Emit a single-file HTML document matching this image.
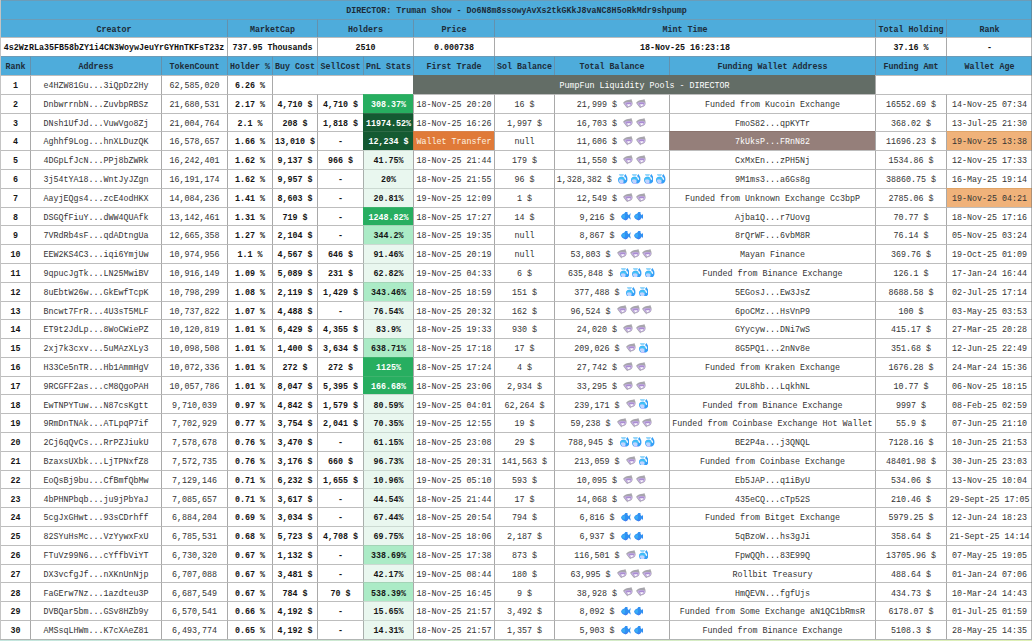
<!DOCTYPE html>
<html><head><meta charset="utf-8"><title>DIRECTOR holders</title>
<style>
html,body{margin:0;padding:0;}
body{width:1032px;height:641px;overflow:hidden;background:#fff;font-family:"Liberation Mono",monospace;font-size:8.35px;color:#333;}
#t{position:absolute;left:0;top:0;width:1032px;height:641px;overflow:hidden;background:#fff;}
.r{position:absolute;left:0;width:1032px;}
.c{position:absolute;top:0;height:100%;box-sizing:border-box;border-left:1px solid #a9a9a9;border-top:1px solid #bdbdbd;text-align:center;line-height:23.6px;white-space:pre;overflow:hidden;}
.up .c{line-height:21.6px;}
.dn .c{line-height:25.6px;}
.h .c{background:#4eacdb;color:#1d2b38;font-weight:bold;border-left-color:#6491ad;border-top-color:#6c9cb8;}
.v .c{font-weight:bold;color:#111;}
.b{font-weight:bold;color:#151515;}
.lp{background:#636d66;color:#fff;border-color:#636d66;}
.g0{background:#e9f7ef;border-top-color:#cbd9d1;border-left-color:#a9afac;}
.g1{background:#abebc6;border-top-color:#a3d3b6;border-left-color:#9fb3a8;}
.g2{background:#27ae60;color:#fff;border-left-color:#27ae60;border-top-color:#3db36d;}
.g3{background:#145a32;color:#fff;border-left-color:#145a32;border-top-color:#2f6b47;}
.wt{background:#e07a38;color:#fdf2e3;border-left-color:#c9763f;border-top-color:#d9824a;}
.br{background:#957f7a;color:#fff;border-left-color:#8f8580;border-top-color:#8b746e;}
.or{background:#f0b27a;border-top-color:#dfa468;}
i{display:inline-block;width:12.6px;height:0;vertical-align:baseline;position:relative;}
.e{position:absolute;left:1.5px;top:var(--t);width:9.8px;height:9.6px;}
#lb{position:absolute;left:0;top:0;width:1px;height:640px;background:#c4c4c4;}
#rb{position:absolute;left:1031px;top:0;width:1px;height:640px;background:rgba(110,110,110,0.5);}
#bb{position:absolute;left:0;top:639px;width:1032px;height:1px;background:#b2b6b4;}
#ft{position:absolute;left:0;top:640px;width:1032px;height:1px;background:linear-gradient(to right,#c4e6df,#d2ebcc 50%,#dff0b6);}
</style></head>
<body><div id="t">
<div class="r h up" style="top:0px;height:19px">
<div class="c" style="left:0px;width:1032px">DIRECTOR: Truman Show - Do6N8m8ssowyAvXs2tkGKkJ8vaNC8H5oRkMdr9shpump</div>
</div>
<div class="r h up" style="top:19px;height:18px">
<div class="c" style="left:0px;width:227px">Creator</div>
<div class="c" style="left:227px;width:90px">MarketCap</div>
<div class="c" style="left:317px;width:96px">Holders</div>
<div class="c" style="left:413px;width:81px">Price</div>
<div class="c" style="left:494px;width:381px">Mint Time</div>
<div class="c" style="left:875px;width:71px">Total Holding</div>
<div class="c" style="left:946px;width:86px">Rank</div>
</div>
<div class="r v up" style="top:37px;height:19px">
<div class="c" style="left:0px;width:227px">4s2WzRLa35FB58bZY1i4CN3WoywJeuYrGYHnTKFsT23z</div>
<div class="c" style="left:227px;width:90px">737.95 Thousands</div>
<div class="c" style="left:317px;width:96px">2510</div>
<div class="c" style="left:413px;width:81px">0.000738</div>
<div class="c" style="left:494px;width:381px">18-Nov-25 16:23:18</div>
<div class="c" style="left:875px;width:71px">37.16 %</div>
<div class="c" style="left:946px;width:86px">-</div>
</div>
<div class="r h up" style="top:56px;height:19px">
<div class="c" style="left:0px;width:30px">Rank</div>
<div class="c" style="left:30px;width:131px">Address</div>
<div class="c" style="left:161px;width:66px">TokenCount</div>
<div class="c" style="left:227px;width:45px">Holder %</div>
<div class="c" style="left:272px;width:45px">Buy Cost</div>
<div class="c" style="left:317px;width:46px">SellCost</div>
<div class="c" style="left:363px;width:50px">PnL Stats</div>
<div class="c" style="left:413px;width:81px">First Trade</div>
<div class="c" style="left:494px;width:60px">Sol Balance</div>
<div class="c" style="left:554px;width:115px">Total Balance</div>
<div class="c" style="left:669px;width:206px">Funding Wallet Address</div>
<div class="c" style="left:875px;width:71px">Funding Amt</div>
<div class="c" style="left:946px;width:86px">Wallet Age</div>
</div>
<div class="r d up" style="top:75px;height:19px;--t:-8.07px">
<div class="c b" style="left:0px;width:30px">1</div>
<div class="c" style="left:30px;width:131px">e4HZW81Gu...3iQpDz2Hy</div>
<div class="c" style="left:161px;width:66px">62,585,020</div>
<div class="c b" style="left:227px;width:45px">6.26 %</div>
<div class="c" style="left:272px;width:141px"></div>
<div class="c lp" style="left:413px;width:462px">PumpFun Liquidity Pools - DIRECTOR</div>
<div class="c" style="left:875px;width:157px"></div>
</div>
<div class="r d up" style="top:94px;height:19px;--t:-8.28px">
<div class="c b" style="left:0px;width:30px">2</div>
<div class="c" style="left:30px;width:131px">DnbwrrnbN...ZuvbpRBSz</div>
<div class="c" style="left:161px;width:66px">21,680,531</div>
<div class="c b" style="left:227px;width:45px">2.17 %</div>
<div class="c b" style="left:272px;width:45px">4,710 $</div>
<div class="c b" style="left:317px;width:46px">4,710 $</div>
<div class="c b g2" style="left:363px;width:50px">308.37%</div>
<div class="c" style="left:413px;width:81px">18-Nov-25 20:20</div>
<div class="c" style="left:494px;width:60px">16 $</div>
<div class="c" style="left:554px;width:115px">21,999 $ <i><svg class="e" viewBox="0 0 10 10"><path d="M0 4C1.4 1.9 4.6 0.6 7.3 0.7L8.6 0 8.9 1.1C10 2.7 10.2 5.2 9.2 6.8 8.2 8.2 6.2 8.8 4.9 8.9L4.2 10 3.6 8.5C2.2 7.4 0.9 5.6 0 4Z" fill="#a7a5ac"/><path d="M1 4.3C3.2 3.1 6.9 2.8 9.5 3.8 9.6 5.2 9.2 6.2 8.6 6.9 7.4 7.9 5.8 8.2 4.6 8.1 3.2 7.2 1.9 5.8 1 4.3Z" fill="#c2addf"/><path d="M3.2 4.4C4.7 3.9 6.6 3.9 8.3 4.4L8.2 5.5 3.2 5.7Z" fill="#a98bd2"/><path d="M3.9 5.8L7.6 5.6C7.1 7 6.2 7.5 5.4 7.4Z" fill="#fff"/></svg></i><i><svg class="e" viewBox="0 0 10 10"><path d="M0 4C1.4 1.9 4.6 0.6 7.3 0.7L8.6 0 8.9 1.1C10 2.7 10.2 5.2 9.2 6.8 8.2 8.2 6.2 8.8 4.9 8.9L4.2 10 3.6 8.5C2.2 7.4 0.9 5.6 0 4Z" fill="#a7a5ac"/><path d="M1 4.3C3.2 3.1 6.9 2.8 9.5 3.8 9.6 5.2 9.2 6.2 8.6 6.9 7.4 7.9 5.8 8.2 4.6 8.1 3.2 7.2 1.9 5.8 1 4.3Z" fill="#c2addf"/><path d="M3.2 4.4C4.7 3.9 6.6 3.9 8.3 4.4L8.2 5.5 3.2 5.7Z" fill="#a98bd2"/><path d="M3.9 5.8L7.6 5.6C7.1 7 6.2 7.5 5.4 7.4Z" fill="#fff"/></svg></i></div>
<div class="c" style="left:669px;width:206px">Funded from Kucoin Exchange</div>
<div class="c" style="left:875px;width:71px">16552.69 $</div>
<div class="c" style="left:946px;width:86px">14-Nov-25 07:34</div>
</div>
<div class="r d up" style="top:113px;height:18px;--t:-8.49px">
<div class="c b" style="left:0px;width:30px">3</div>
<div class="c" style="left:30px;width:131px">DNsh1UfJd...VuwVgo8Zj</div>
<div class="c" style="left:161px;width:66px">21,004,764</div>
<div class="c b" style="left:227px;width:45px">2.1 %</div>
<div class="c b" style="left:272px;width:45px">208 $</div>
<div class="c b" style="left:317px;width:46px">1,818 $</div>
<div class="c b g3" style="left:363px;width:50px">11974.52%</div>
<div class="c" style="left:413px;width:81px">18-Nov-25 16:26</div>
<div class="c" style="left:494px;width:60px">1,997 $</div>
<div class="c" style="left:554px;width:115px">16,703 $ <i><svg class="e" viewBox="0 0 10 10"><path d="M0 4C1.4 1.9 4.6 0.6 7.3 0.7L8.6 0 8.9 1.1C10 2.7 10.2 5.2 9.2 6.8 8.2 8.2 6.2 8.8 4.9 8.9L4.2 10 3.6 8.5C2.2 7.4 0.9 5.6 0 4Z" fill="#a7a5ac"/><path d="M1 4.3C3.2 3.1 6.9 2.8 9.5 3.8 9.6 5.2 9.2 6.2 8.6 6.9 7.4 7.9 5.8 8.2 4.6 8.1 3.2 7.2 1.9 5.8 1 4.3Z" fill="#c2addf"/><path d="M3.2 4.4C4.7 3.9 6.6 3.9 8.3 4.4L8.2 5.5 3.2 5.7Z" fill="#a98bd2"/><path d="M3.9 5.8L7.6 5.6C7.1 7 6.2 7.5 5.4 7.4Z" fill="#fff"/></svg></i><i><svg class="e" viewBox="0 0 10 10"><path d="M0 4C1.4 1.9 4.6 0.6 7.3 0.7L8.6 0 8.9 1.1C10 2.7 10.2 5.2 9.2 6.8 8.2 8.2 6.2 8.8 4.9 8.9L4.2 10 3.6 8.5C2.2 7.4 0.9 5.6 0 4Z" fill="#a7a5ac"/><path d="M1 4.3C3.2 3.1 6.9 2.8 9.5 3.8 9.6 5.2 9.2 6.2 8.6 6.9 7.4 7.9 5.8 8.2 4.6 8.1 3.2 7.2 1.9 5.8 1 4.3Z" fill="#c2addf"/><path d="M3.2 4.4C4.7 3.9 6.6 3.9 8.3 4.4L8.2 5.5 3.2 5.7Z" fill="#a98bd2"/><path d="M3.9 5.8L7.6 5.6C7.1 7 6.2 7.5 5.4 7.4Z" fill="#fff"/></svg></i></div>
<div class="c" style="left:669px;width:206px">FmoS82...qpKYTr</div>
<div class="c" style="left:875px;width:71px">368.02 $</div>
<div class="c" style="left:946px;width:86px">13-Jul-25 21:30</div>
</div>
<div class="r d up" style="top:131px;height:19px;--t:-7.69px">
<div class="c b" style="left:0px;width:30px">4</div>
<div class="c" style="left:30px;width:131px">Aghhf9Log...hnXLDuzQK</div>
<div class="c" style="left:161px;width:66px">16,578,657</div>
<div class="c b" style="left:227px;width:45px">1.66 %</div>
<div class="c b" style="left:272px;width:45px">13,010 $</div>
<div class="c b" style="left:317px;width:46px">-</div>
<div class="c b g3" style="left:363px;width:50px">12,234 $</div>
<div class="c wt" style="left:413px;width:81px">Wallet Transfer</div>
<div class="c" style="left:494px;width:60px">null</div>
<div class="c" style="left:554px;width:115px">11,606 $ <i><svg class="e" viewBox="0 0 10 10"><path d="M0 4C1.4 1.9 4.6 0.6 7.3 0.7L8.6 0 8.9 1.1C10 2.7 10.2 5.2 9.2 6.8 8.2 8.2 6.2 8.8 4.9 8.9L4.2 10 3.6 8.5C2.2 7.4 0.9 5.6 0 4Z" fill="#a7a5ac"/><path d="M1 4.3C3.2 3.1 6.9 2.8 9.5 3.8 9.6 5.2 9.2 6.2 8.6 6.9 7.4 7.9 5.8 8.2 4.6 8.1 3.2 7.2 1.9 5.8 1 4.3Z" fill="#c2addf"/><path d="M3.2 4.4C4.7 3.9 6.6 3.9 8.3 4.4L8.2 5.5 3.2 5.7Z" fill="#a98bd2"/><path d="M3.9 5.8L7.6 5.6C7.1 7 6.2 7.5 5.4 7.4Z" fill="#fff"/></svg></i><i><svg class="e" viewBox="0 0 10 10"><path d="M0 4C1.4 1.9 4.6 0.6 7.3 0.7L8.6 0 8.9 1.1C10 2.7 10.2 5.2 9.2 6.8 8.2 8.2 6.2 8.8 4.9 8.9L4.2 10 3.6 8.5C2.2 7.4 0.9 5.6 0 4Z" fill="#a7a5ac"/><path d="M1 4.3C3.2 3.1 6.9 2.8 9.5 3.8 9.6 5.2 9.2 6.2 8.6 6.9 7.4 7.9 5.8 8.2 4.6 8.1 3.2 7.2 1.9 5.8 1 4.3Z" fill="#c2addf"/><path d="M3.2 4.4C4.7 3.9 6.6 3.9 8.3 4.4L8.2 5.5 3.2 5.7Z" fill="#a98bd2"/><path d="M3.9 5.8L7.6 5.6C7.1 7 6.2 7.5 5.4 7.4Z" fill="#fff"/></svg></i></div>
<div class="c br" style="left:669px;width:206px">7kUksP...FRnN82</div>
<div class="c" style="left:875px;width:71px">11696.23 $</div>
<div class="c or" style="left:946px;width:86px">19-Nov-25 13:38</div>
</div>
<div class="r d up" style="top:150px;height:19px;--t:-7.9px">
<div class="c b" style="left:0px;width:30px">5</div>
<div class="c" style="left:30px;width:131px">4DGpLfJcN...PPj8bZWRk</div>
<div class="c" style="left:161px;width:66px">16,242,401</div>
<div class="c b" style="left:227px;width:45px">1.62 %</div>
<div class="c b" style="left:272px;width:45px">9,137 $</div>
<div class="c b" style="left:317px;width:46px">966 $</div>
<div class="c b g0" style="left:363px;width:50px">41.75%</div>
<div class="c" style="left:413px;width:81px">18-Nov-25 21:44</div>
<div class="c" style="left:494px;width:60px">179 $</div>
<div class="c" style="left:554px;width:115px">11,550 $ <i><svg class="e" viewBox="0 0 10 10"><path d="M0 4C1.4 1.9 4.6 0.6 7.3 0.7L8.6 0 8.9 1.1C10 2.7 10.2 5.2 9.2 6.8 8.2 8.2 6.2 8.8 4.9 8.9L4.2 10 3.6 8.5C2.2 7.4 0.9 5.6 0 4Z" fill="#a7a5ac"/><path d="M1 4.3C3.2 3.1 6.9 2.8 9.5 3.8 9.6 5.2 9.2 6.2 8.6 6.9 7.4 7.9 5.8 8.2 4.6 8.1 3.2 7.2 1.9 5.8 1 4.3Z" fill="#c2addf"/><path d="M3.2 4.4C4.7 3.9 6.6 3.9 8.3 4.4L8.2 5.5 3.2 5.7Z" fill="#a98bd2"/><path d="M3.9 5.8L7.6 5.6C7.1 7 6.2 7.5 5.4 7.4Z" fill="#fff"/></svg></i><i><svg class="e" viewBox="0 0 10 10"><path d="M0 4C1.4 1.9 4.6 0.6 7.3 0.7L8.6 0 8.9 1.1C10 2.7 10.2 5.2 9.2 6.8 8.2 8.2 6.2 8.8 4.9 8.9L4.2 10 3.6 8.5C2.2 7.4 0.9 5.6 0 4Z" fill="#a7a5ac"/><path d="M1 4.3C3.2 3.1 6.9 2.8 9.5 3.8 9.6 5.2 9.2 6.2 8.6 6.9 7.4 7.9 5.8 8.2 4.6 8.1 3.2 7.2 1.9 5.8 1 4.3Z" fill="#c2addf"/><path d="M3.2 4.4C4.7 3.9 6.6 3.9 8.3 4.4L8.2 5.5 3.2 5.7Z" fill="#a98bd2"/><path d="M3.9 5.8L7.6 5.6C7.1 7 6.2 7.5 5.4 7.4Z" fill="#fff"/></svg></i></div>
<div class="c" style="left:669px;width:206px">CxMxEn...zPH5Nj</div>
<div class="c" style="left:875px;width:71px">1534.86 $</div>
<div class="c" style="left:946px;width:86px">12-Nov-25 17:33</div>
</div>
<div class="r d up" style="top:169px;height:19px;--t:-8.1px">
<div class="c b" style="left:0px;width:30px">6</div>
<div class="c" style="left:30px;width:131px">3j54tYA18...WntJyJZgn</div>
<div class="c" style="left:161px;width:66px">16,191,174</div>
<div class="c b" style="left:227px;width:45px">1.62 %</div>
<div class="c b" style="left:272px;width:45px">9,957 $</div>
<div class="c b" style="left:317px;width:46px">-</div>
<div class="c b g0" style="left:363px;width:50px">20%</div>
<div class="c" style="left:413px;width:81px">18-Nov-25 21:55</div>
<div class="c" style="left:494px;width:60px">96 $</div>
<div class="c" style="left:554px;width:115px">1,328,382 $ <i><svg class="e" viewBox="0 0 10 10"><path d="M0.8 0H6.2L5.1 2.4H1.9Z" fill="#95d6fb"/><path d="M0 6C0 4 1.4 2.8 3.4 2.8 5 2.8 6.2 3.4 6.9 4.6L6.3 1.8 7.6 0 8.7 1.7C10.1 3.6 10.1 7 8.8 8.7 8.1 9.6 7.2 10 6 10H2.6C0.9 9.8 0 8 0 6Z" fill="#359ff7"/><path d="M0.5 4.6C2 2.9 5.4 3 6.6 4.8 6.8 5.6 6.6 6.4 6.2 7 4.6 5.6 2.2 5.4 0.4 6.2Z" fill="#41c2f7"/><path d="M0.9 6.1C2.4 5.1 4.6 5.3 5.7 6.7 5.9 8.1 5.4 9.3 4.8 9.9H2.6C1.4 9.4 0.9 7.7 0.9 6.1Z" fill="#c0d5ff"/><path d="M2 9.3H6.4L6.2 10H2.6Z" fill="#c9a4f8"/><path d="M6.3 2.5C7.9 2.9 8.6 4.8 8.2 6.5L6.7 5.2Z" fill="#fff"/></svg></i><i><svg class="e" viewBox="0 0 10 10"><path d="M0.8 0H6.2L5.1 2.4H1.9Z" fill="#95d6fb"/><path d="M0 6C0 4 1.4 2.8 3.4 2.8 5 2.8 6.2 3.4 6.9 4.6L6.3 1.8 7.6 0 8.7 1.7C10.1 3.6 10.1 7 8.8 8.7 8.1 9.6 7.2 10 6 10H2.6C0.9 9.8 0 8 0 6Z" fill="#359ff7"/><path d="M0.5 4.6C2 2.9 5.4 3 6.6 4.8 6.8 5.6 6.6 6.4 6.2 7 4.6 5.6 2.2 5.4 0.4 6.2Z" fill="#41c2f7"/><path d="M0.9 6.1C2.4 5.1 4.6 5.3 5.7 6.7 5.9 8.1 5.4 9.3 4.8 9.9H2.6C1.4 9.4 0.9 7.7 0.9 6.1Z" fill="#c0d5ff"/><path d="M2 9.3H6.4L6.2 10H2.6Z" fill="#c9a4f8"/><path d="M6.3 2.5C7.9 2.9 8.6 4.8 8.2 6.5L6.7 5.2Z" fill="#fff"/></svg></i><i><svg class="e" viewBox="0 0 10 10"><path d="M0.8 0H6.2L5.1 2.4H1.9Z" fill="#95d6fb"/><path d="M0 6C0 4 1.4 2.8 3.4 2.8 5 2.8 6.2 3.4 6.9 4.6L6.3 1.8 7.6 0 8.7 1.7C10.1 3.6 10.1 7 8.8 8.7 8.1 9.6 7.2 10 6 10H2.6C0.9 9.8 0 8 0 6Z" fill="#359ff7"/><path d="M0.5 4.6C2 2.9 5.4 3 6.6 4.8 6.8 5.6 6.6 6.4 6.2 7 4.6 5.6 2.2 5.4 0.4 6.2Z" fill="#41c2f7"/><path d="M0.9 6.1C2.4 5.1 4.6 5.3 5.7 6.7 5.9 8.1 5.4 9.3 4.8 9.9H2.6C1.4 9.4 0.9 7.7 0.9 6.1Z" fill="#c0d5ff"/><path d="M2 9.3H6.4L6.2 10H2.6Z" fill="#c9a4f8"/><path d="M6.3 2.5C7.9 2.9 8.6 4.8 8.2 6.5L6.7 5.2Z" fill="#fff"/></svg></i><i><svg class="e" viewBox="0 0 10 10"><path d="M0.8 0H6.2L5.1 2.4H1.9Z" fill="#95d6fb"/><path d="M0 6C0 4 1.4 2.8 3.4 2.8 5 2.8 6.2 3.4 6.9 4.6L6.3 1.8 7.6 0 8.7 1.7C10.1 3.6 10.1 7 8.8 8.7 8.1 9.6 7.2 10 6 10H2.6C0.9 9.8 0 8 0 6Z" fill="#359ff7"/><path d="M0.5 4.6C2 2.9 5.4 3 6.6 4.8 6.8 5.6 6.6 6.4 6.2 7 4.6 5.6 2.2 5.4 0.4 6.2Z" fill="#41c2f7"/><path d="M0.9 6.1C2.4 5.1 4.6 5.3 5.7 6.7 5.9 8.1 5.4 9.3 4.8 9.9H2.6C1.4 9.4 0.9 7.7 0.9 6.1Z" fill="#c0d5ff"/><path d="M2 9.3H6.4L6.2 10H2.6Z" fill="#c9a4f8"/><path d="M6.3 2.5C7.9 2.9 8.6 4.8 8.2 6.5L6.7 5.2Z" fill="#fff"/></svg></i></div>
<div class="c" style="left:669px;width:206px">9M1ms3...a6Gs8g</div>
<div class="c" style="left:875px;width:71px">38860.75 $</div>
<div class="c" style="left:946px;width:86px">16-May-25 19:14</div>
</div>
<div class="r d up" style="top:188px;height:19px;--t:-8.31px">
<div class="c b" style="left:0px;width:30px">7</div>
<div class="c" style="left:30px;width:131px">AayjEQgs4...zcE4odHKX</div>
<div class="c" style="left:161px;width:66px">14,084,236</div>
<div class="c b" style="left:227px;width:45px">1.41 %</div>
<div class="c b" style="left:272px;width:45px">8,603 $</div>
<div class="c b" style="left:317px;width:46px">-</div>
<div class="c b g0" style="left:363px;width:50px">20.81%</div>
<div class="c" style="left:413px;width:81px">19-Nov-25 12:09</div>
<div class="c" style="left:494px;width:60px">1 $</div>
<div class="c" style="left:554px;width:115px">12,549 $ <i><svg class="e" viewBox="0 0 10 10"><path d="M0 4C1.4 1.9 4.6 0.6 7.3 0.7L8.6 0 8.9 1.1C10 2.7 10.2 5.2 9.2 6.8 8.2 8.2 6.2 8.8 4.9 8.9L4.2 10 3.6 8.5C2.2 7.4 0.9 5.6 0 4Z" fill="#a7a5ac"/><path d="M1 4.3C3.2 3.1 6.9 2.8 9.5 3.8 9.6 5.2 9.2 6.2 8.6 6.9 7.4 7.9 5.8 8.2 4.6 8.1 3.2 7.2 1.9 5.8 1 4.3Z" fill="#c2addf"/><path d="M3.2 4.4C4.7 3.9 6.6 3.9 8.3 4.4L8.2 5.5 3.2 5.7Z" fill="#a98bd2"/><path d="M3.9 5.8L7.6 5.6C7.1 7 6.2 7.5 5.4 7.4Z" fill="#fff"/></svg></i><i><svg class="e" viewBox="0 0 10 10"><path d="M0 4C1.4 1.9 4.6 0.6 7.3 0.7L8.6 0 8.9 1.1C10 2.7 10.2 5.2 9.2 6.8 8.2 8.2 6.2 8.8 4.9 8.9L4.2 10 3.6 8.5C2.2 7.4 0.9 5.6 0 4Z" fill="#a7a5ac"/><path d="M1 4.3C3.2 3.1 6.9 2.8 9.5 3.8 9.6 5.2 9.2 6.2 8.6 6.9 7.4 7.9 5.8 8.2 4.6 8.1 3.2 7.2 1.9 5.8 1 4.3Z" fill="#c2addf"/><path d="M3.2 4.4C4.7 3.9 6.6 3.9 8.3 4.4L8.2 5.5 3.2 5.7Z" fill="#a98bd2"/><path d="M3.9 5.8L7.6 5.6C7.1 7 6.2 7.5 5.4 7.4Z" fill="#fff"/></svg></i></div>
<div class="c" style="left:669px;width:206px">Funded from Unknown Exchange Cc3bpP</div>
<div class="c" style="left:875px;width:71px">2785.06 $</div>
<div class="c or" style="left:946px;width:86px">19-Nov-25 04:21</div>
</div>
<div class="r d up" style="top:207px;height:18px;--t:-8.52px">
<div class="c b" style="left:0px;width:30px">8</div>
<div class="c" style="left:30px;width:131px">DSGQfFiuY...dWW4QUAfk</div>
<div class="c" style="left:161px;width:66px">13,142,461</div>
<div class="c b" style="left:227px;width:45px">1.31 %</div>
<div class="c b" style="left:272px;width:45px">719 $</div>
<div class="c b" style="left:317px;width:46px">-</div>
<div class="c b g2" style="left:363px;width:50px">1248.82%</div>
<div class="c" style="left:413px;width:81px">18-Nov-25 17:27</div>
<div class="c" style="left:494px;width:60px">14 $</div>
<div class="c" style="left:554px;width:115px">9,216 $ <i><svg class="e" viewBox="0 0 10 10"><path d="M3.4 2.6L4.4 1 6.6 1.1 6.8 3C7.4 3.4 7.8 3.9 8.1 4.5L9.6 2.4 10 2.8 9.3 5.4 10 8.4 9.5 8.8 8 6.8C7.3 8.2 6 9.5 4.6 9.6 2.3 9.6 0.4 7.8 0 5.8 0.4 4.2 1.8 3 3.4 2.6Z" fill="#2f8ff2"/><path d="M0.6 5.6C1 4.4 2.3 3.5 3.8 3.4 4.4 4.8 4.2 7 3.4 8.2 2 7.8 0.9 6.7 0.6 5.6Z" fill="#39acf6"/><path d="M3 8.9C4.6 9.1 6.4 8.2 7.5 6.7 7.1 8.2 5.9 9.5 4.6 9.6 4 9.6 3.4 9.3 3 8.9Z" fill="#4b76f0"/></svg></i><i><svg class="e" viewBox="0 0 10 10"><path d="M3.4 2.6L4.4 1 6.6 1.1 6.8 3C7.4 3.4 7.8 3.9 8.1 4.5L9.6 2.4 10 2.8 9.3 5.4 10 8.4 9.5 8.8 8 6.8C7.3 8.2 6 9.5 4.6 9.6 2.3 9.6 0.4 7.8 0 5.8 0.4 4.2 1.8 3 3.4 2.6Z" fill="#2f8ff2"/><path d="M0.6 5.6C1 4.4 2.3 3.5 3.8 3.4 4.4 4.8 4.2 7 3.4 8.2 2 7.8 0.9 6.7 0.6 5.6Z" fill="#39acf6"/><path d="M3 8.9C4.6 9.1 6.4 8.2 7.5 6.7 7.1 8.2 5.9 9.5 4.6 9.6 4 9.6 3.4 9.3 3 8.9Z" fill="#4b76f0"/></svg></i></div>
<div class="c" style="left:669px;width:206px">Ajba1Q...r7Uovg</div>
<div class="c" style="left:875px;width:71px">70.77 $</div>
<div class="c" style="left:946px;width:86px">18-Nov-25 17:16</div>
</div>
<div class="r d up" style="top:225px;height:19px;--t:-7.72px">
<div class="c b" style="left:0px;width:30px">9</div>
<div class="c" style="left:30px;width:131px">7VRdRb4sF...qdADtngUa</div>
<div class="c" style="left:161px;width:66px">12,665,358</div>
<div class="c b" style="left:227px;width:45px">1.27 %</div>
<div class="c b" style="left:272px;width:45px">2,104 $</div>
<div class="c b" style="left:317px;width:46px">-</div>
<div class="c b g1" style="left:363px;width:50px">344.2%</div>
<div class="c" style="left:413px;width:81px">18-Nov-25 19:35</div>
<div class="c" style="left:494px;width:60px">null</div>
<div class="c" style="left:554px;width:115px">8,867 $ <i><svg class="e" viewBox="0 0 10 10"><path d="M3.4 2.6L4.4 1 6.6 1.1 6.8 3C7.4 3.4 7.8 3.9 8.1 4.5L9.6 2.4 10 2.8 9.3 5.4 10 8.4 9.5 8.8 8 6.8C7.3 8.2 6 9.5 4.6 9.6 2.3 9.6 0.4 7.8 0 5.8 0.4 4.2 1.8 3 3.4 2.6Z" fill="#2f8ff2"/><path d="M0.6 5.6C1 4.4 2.3 3.5 3.8 3.4 4.4 4.8 4.2 7 3.4 8.2 2 7.8 0.9 6.7 0.6 5.6Z" fill="#39acf6"/><path d="M3 8.9C4.6 9.1 6.4 8.2 7.5 6.7 7.1 8.2 5.9 9.5 4.6 9.6 4 9.6 3.4 9.3 3 8.9Z" fill="#4b76f0"/></svg></i><i><svg class="e" viewBox="0 0 10 10"><path d="M3.4 2.6L4.4 1 6.6 1.1 6.8 3C7.4 3.4 7.8 3.9 8.1 4.5L9.6 2.4 10 2.8 9.3 5.4 10 8.4 9.5 8.8 8 6.8C7.3 8.2 6 9.5 4.6 9.6 2.3 9.6 0.4 7.8 0 5.8 0.4 4.2 1.8 3 3.4 2.6Z" fill="#2f8ff2"/><path d="M0.6 5.6C1 4.4 2.3 3.5 3.8 3.4 4.4 4.8 4.2 7 3.4 8.2 2 7.8 0.9 6.7 0.6 5.6Z" fill="#39acf6"/><path d="M3 8.9C4.6 9.1 6.4 8.2 7.5 6.7 7.1 8.2 5.9 9.5 4.6 9.6 4 9.6 3.4 9.3 3 8.9Z" fill="#4b76f0"/></svg></i></div>
<div class="c" style="left:669px;width:206px">8rQrWF...6vbM8R</div>
<div class="c" style="left:875px;width:71px">76.14 $</div>
<div class="c" style="left:946px;width:86px">05-Nov-25 03:24</div>
</div>
<div class="r d up" style="top:244px;height:19px;--t:-7.93px">
<div class="c b" style="left:0px;width:30px">10</div>
<div class="c" style="left:30px;width:131px">EEW2KS4C3...iqi6YmjUw</div>
<div class="c" style="left:161px;width:66px">10,974,956</div>
<div class="c b" style="left:227px;width:45px">1.1 %</div>
<div class="c b" style="left:272px;width:45px">4,567 $</div>
<div class="c b" style="left:317px;width:46px">646 $</div>
<div class="c b g0" style="left:363px;width:50px">91.46%</div>
<div class="c" style="left:413px;width:81px">18-Nov-25 20:19</div>
<div class="c" style="left:494px;width:60px">null</div>
<div class="c" style="left:554px;width:115px">53,803 $ <i><svg class="e" viewBox="0 0 10 10"><path d="M0 4C1.4 1.9 4.6 0.6 7.3 0.7L8.6 0 8.9 1.1C10 2.7 10.2 5.2 9.2 6.8 8.2 8.2 6.2 8.8 4.9 8.9L4.2 10 3.6 8.5C2.2 7.4 0.9 5.6 0 4Z" fill="#a7a5ac"/><path d="M1 4.3C3.2 3.1 6.9 2.8 9.5 3.8 9.6 5.2 9.2 6.2 8.6 6.9 7.4 7.9 5.8 8.2 4.6 8.1 3.2 7.2 1.9 5.8 1 4.3Z" fill="#c2addf"/><path d="M3.2 4.4C4.7 3.9 6.6 3.9 8.3 4.4L8.2 5.5 3.2 5.7Z" fill="#a98bd2"/><path d="M3.9 5.8L7.6 5.6C7.1 7 6.2 7.5 5.4 7.4Z" fill="#fff"/></svg></i><i><svg class="e" viewBox="0 0 10 10"><path d="M0 4C1.4 1.9 4.6 0.6 7.3 0.7L8.6 0 8.9 1.1C10 2.7 10.2 5.2 9.2 6.8 8.2 8.2 6.2 8.8 4.9 8.9L4.2 10 3.6 8.5C2.2 7.4 0.9 5.6 0 4Z" fill="#a7a5ac"/><path d="M1 4.3C3.2 3.1 6.9 2.8 9.5 3.8 9.6 5.2 9.2 6.2 8.6 6.9 7.4 7.9 5.8 8.2 4.6 8.1 3.2 7.2 1.9 5.8 1 4.3Z" fill="#c2addf"/><path d="M3.2 4.4C4.7 3.9 6.6 3.9 8.3 4.4L8.2 5.5 3.2 5.7Z" fill="#a98bd2"/><path d="M3.9 5.8L7.6 5.6C7.1 7 6.2 7.5 5.4 7.4Z" fill="#fff"/></svg></i><i><svg class="e" viewBox="0 0 10 10"><path d="M0 4C1.4 1.9 4.6 0.6 7.3 0.7L8.6 0 8.9 1.1C10 2.7 10.2 5.2 9.2 6.8 8.2 8.2 6.2 8.8 4.9 8.9L4.2 10 3.6 8.5C2.2 7.4 0.9 5.6 0 4Z" fill="#a7a5ac"/><path d="M1 4.3C3.2 3.1 6.9 2.8 9.5 3.8 9.6 5.2 9.2 6.2 8.6 6.9 7.4 7.9 5.8 8.2 4.6 8.1 3.2 7.2 1.9 5.8 1 4.3Z" fill="#c2addf"/><path d="M3.2 4.4C4.7 3.9 6.6 3.9 8.3 4.4L8.2 5.5 3.2 5.7Z" fill="#a98bd2"/><path d="M3.9 5.8L7.6 5.6C7.1 7 6.2 7.5 5.4 7.4Z" fill="#fff"/></svg></i></div>
<div class="c" style="left:669px;width:206px">Mayan Finance</div>
<div class="c" style="left:875px;width:71px">369.76 $</div>
<div class="c" style="left:946px;width:86px">19-Oct-25 01:09</div>
</div>
<div class="r d up" style="top:263px;height:19px;--t:-8.13px">
<div class="c b" style="left:0px;width:30px">11</div>
<div class="c" style="left:30px;width:131px">9qpucJgTk...LN25MwiBV</div>
<div class="c" style="left:161px;width:66px">10,916,149</div>
<div class="c b" style="left:227px;width:45px">1.09 %</div>
<div class="c b" style="left:272px;width:45px">5,089 $</div>
<div class="c b" style="left:317px;width:46px">231 $</div>
<div class="c b g0" style="left:363px;width:50px">62.82%</div>
<div class="c" style="left:413px;width:81px">19-Nov-25 04:33</div>
<div class="c" style="left:494px;width:60px">6 $</div>
<div class="c" style="left:554px;width:115px">635,848 $ <i><svg class="e" viewBox="0 0 10 10"><path d="M0.8 0H6.2L5.1 2.4H1.9Z" fill="#95d6fb"/><path d="M0 6C0 4 1.4 2.8 3.4 2.8 5 2.8 6.2 3.4 6.9 4.6L6.3 1.8 7.6 0 8.7 1.7C10.1 3.6 10.1 7 8.8 8.7 8.1 9.6 7.2 10 6 10H2.6C0.9 9.8 0 8 0 6Z" fill="#359ff7"/><path d="M0.5 4.6C2 2.9 5.4 3 6.6 4.8 6.8 5.6 6.6 6.4 6.2 7 4.6 5.6 2.2 5.4 0.4 6.2Z" fill="#41c2f7"/><path d="M0.9 6.1C2.4 5.1 4.6 5.3 5.7 6.7 5.9 8.1 5.4 9.3 4.8 9.9H2.6C1.4 9.4 0.9 7.7 0.9 6.1Z" fill="#c0d5ff"/><path d="M2 9.3H6.4L6.2 10H2.6Z" fill="#c9a4f8"/><path d="M6.3 2.5C7.9 2.9 8.6 4.8 8.2 6.5L6.7 5.2Z" fill="#fff"/></svg></i><i><svg class="e" viewBox="0 0 10 10"><path d="M0.8 0H6.2L5.1 2.4H1.9Z" fill="#95d6fb"/><path d="M0 6C0 4 1.4 2.8 3.4 2.8 5 2.8 6.2 3.4 6.9 4.6L6.3 1.8 7.6 0 8.7 1.7C10.1 3.6 10.1 7 8.8 8.7 8.1 9.6 7.2 10 6 10H2.6C0.9 9.8 0 8 0 6Z" fill="#359ff7"/><path d="M0.5 4.6C2 2.9 5.4 3 6.6 4.8 6.8 5.6 6.6 6.4 6.2 7 4.6 5.6 2.2 5.4 0.4 6.2Z" fill="#41c2f7"/><path d="M0.9 6.1C2.4 5.1 4.6 5.3 5.7 6.7 5.9 8.1 5.4 9.3 4.8 9.9H2.6C1.4 9.4 0.9 7.7 0.9 6.1Z" fill="#c0d5ff"/><path d="M2 9.3H6.4L6.2 10H2.6Z" fill="#c9a4f8"/><path d="M6.3 2.5C7.9 2.9 8.6 4.8 8.2 6.5L6.7 5.2Z" fill="#fff"/></svg></i><i><svg class="e" viewBox="0 0 10 10"><path d="M0.8 0H6.2L5.1 2.4H1.9Z" fill="#95d6fb"/><path d="M0 6C0 4 1.4 2.8 3.4 2.8 5 2.8 6.2 3.4 6.9 4.6L6.3 1.8 7.6 0 8.7 1.7C10.1 3.6 10.1 7 8.8 8.7 8.1 9.6 7.2 10 6 10H2.6C0.9 9.8 0 8 0 6Z" fill="#359ff7"/><path d="M0.5 4.6C2 2.9 5.4 3 6.6 4.8 6.8 5.6 6.6 6.4 6.2 7 4.6 5.6 2.2 5.4 0.4 6.2Z" fill="#41c2f7"/><path d="M0.9 6.1C2.4 5.1 4.6 5.3 5.7 6.7 5.9 8.1 5.4 9.3 4.8 9.9H2.6C1.4 9.4 0.9 7.7 0.9 6.1Z" fill="#c0d5ff"/><path d="M2 9.3H6.4L6.2 10H2.6Z" fill="#c9a4f8"/><path d="M6.3 2.5C7.9 2.9 8.6 4.8 8.2 6.5L6.7 5.2Z" fill="#fff"/></svg></i></div>
<div class="c" style="left:669px;width:206px">Funded from Binance Exchange</div>
<div class="c" style="left:875px;width:71px">126.1 $</div>
<div class="c" style="left:946px;width:86px">17-Jan-24 16:44</div>
</div>
<div class="r d up" style="top:282px;height:19px;--t:-8.34px">
<div class="c b" style="left:0px;width:30px">12</div>
<div class="c" style="left:30px;width:131px">8uEbtW26w...GkEwfTcpK</div>
<div class="c" style="left:161px;width:66px">10,798,299</div>
<div class="c b" style="left:227px;width:45px">1.08 %</div>
<div class="c b" style="left:272px;width:45px">2,119 $</div>
<div class="c b" style="left:317px;width:46px">1,429 $</div>
<div class="c b g1" style="left:363px;width:50px">343.46%</div>
<div class="c" style="left:413px;width:81px">18-Nov-25 18:59</div>
<div class="c" style="left:494px;width:60px">151 $</div>
<div class="c" style="left:554px;width:115px">377,488 $ <i><svg class="e" viewBox="0 0 10 10"><path d="M0.8 0H6.2L5.1 2.4H1.9Z" fill="#95d6fb"/><path d="M0 6C0 4 1.4 2.8 3.4 2.8 5 2.8 6.2 3.4 6.9 4.6L6.3 1.8 7.6 0 8.7 1.7C10.1 3.6 10.1 7 8.8 8.7 8.1 9.6 7.2 10 6 10H2.6C0.9 9.8 0 8 0 6Z" fill="#359ff7"/><path d="M0.5 4.6C2 2.9 5.4 3 6.6 4.8 6.8 5.6 6.6 6.4 6.2 7 4.6 5.6 2.2 5.4 0.4 6.2Z" fill="#41c2f7"/><path d="M0.9 6.1C2.4 5.1 4.6 5.3 5.7 6.7 5.9 8.1 5.4 9.3 4.8 9.9H2.6C1.4 9.4 0.9 7.7 0.9 6.1Z" fill="#c0d5ff"/><path d="M2 9.3H6.4L6.2 10H2.6Z" fill="#c9a4f8"/><path d="M6.3 2.5C7.9 2.9 8.6 4.8 8.2 6.5L6.7 5.2Z" fill="#fff"/></svg></i><i><svg class="e" viewBox="0 0 10 10"><path d="M0.8 0H6.2L5.1 2.4H1.9Z" fill="#95d6fb"/><path d="M0 6C0 4 1.4 2.8 3.4 2.8 5 2.8 6.2 3.4 6.9 4.6L6.3 1.8 7.6 0 8.7 1.7C10.1 3.6 10.1 7 8.8 8.7 8.1 9.6 7.2 10 6 10H2.6C0.9 9.8 0 8 0 6Z" fill="#359ff7"/><path d="M0.5 4.6C2 2.9 5.4 3 6.6 4.8 6.8 5.6 6.6 6.4 6.2 7 4.6 5.6 2.2 5.4 0.4 6.2Z" fill="#41c2f7"/><path d="M0.9 6.1C2.4 5.1 4.6 5.3 5.7 6.7 5.9 8.1 5.4 9.3 4.8 9.9H2.6C1.4 9.4 0.9 7.7 0.9 6.1Z" fill="#c0d5ff"/><path d="M2 9.3H6.4L6.2 10H2.6Z" fill="#c9a4f8"/><path d="M6.3 2.5C7.9 2.9 8.6 4.8 8.2 6.5L6.7 5.2Z" fill="#fff"/></svg></i></div>
<div class="c" style="left:669px;width:206px">5EGosJ...Ew3JsZ</div>
<div class="c" style="left:875px;width:71px">8688.58 $</div>
<div class="c" style="left:946px;width:86px">02-Jul-25 17:14</div>
</div>
<div class="r d up" style="top:301px;height:18px;--t:-8.55px">
<div class="c b" style="left:0px;width:30px">13</div>
<div class="c" style="left:30px;width:131px">Bncwt7FrR...4U3sT5MLF</div>
<div class="c" style="left:161px;width:66px">10,737,822</div>
<div class="c b" style="left:227px;width:45px">1.07 %</div>
<div class="c b" style="left:272px;width:45px">4,488 $</div>
<div class="c b" style="left:317px;width:46px">-</div>
<div class="c b g0" style="left:363px;width:50px">76.54%</div>
<div class="c" style="left:413px;width:81px">18-Nov-25 20:32</div>
<div class="c" style="left:494px;width:60px">162 $</div>
<div class="c" style="left:554px;width:115px">96,524 $ <i><svg class="e" viewBox="0 0 10 10"><path d="M0 4C1.4 1.9 4.6 0.6 7.3 0.7L8.6 0 8.9 1.1C10 2.7 10.2 5.2 9.2 6.8 8.2 8.2 6.2 8.8 4.9 8.9L4.2 10 3.6 8.5C2.2 7.4 0.9 5.6 0 4Z" fill="#a7a5ac"/><path d="M1 4.3C3.2 3.1 6.9 2.8 9.5 3.8 9.6 5.2 9.2 6.2 8.6 6.9 7.4 7.9 5.8 8.2 4.6 8.1 3.2 7.2 1.9 5.8 1 4.3Z" fill="#c2addf"/><path d="M3.2 4.4C4.7 3.9 6.6 3.9 8.3 4.4L8.2 5.5 3.2 5.7Z" fill="#a98bd2"/><path d="M3.9 5.8L7.6 5.6C7.1 7 6.2 7.5 5.4 7.4Z" fill="#fff"/></svg></i><i><svg class="e" viewBox="0 0 10 10"><path d="M0 4C1.4 1.9 4.6 0.6 7.3 0.7L8.6 0 8.9 1.1C10 2.7 10.2 5.2 9.2 6.8 8.2 8.2 6.2 8.8 4.9 8.9L4.2 10 3.6 8.5C2.2 7.4 0.9 5.6 0 4Z" fill="#a7a5ac"/><path d="M1 4.3C3.2 3.1 6.9 2.8 9.5 3.8 9.6 5.2 9.2 6.2 8.6 6.9 7.4 7.9 5.8 8.2 4.6 8.1 3.2 7.2 1.9 5.8 1 4.3Z" fill="#c2addf"/><path d="M3.2 4.4C4.7 3.9 6.6 3.9 8.3 4.4L8.2 5.5 3.2 5.7Z" fill="#a98bd2"/><path d="M3.9 5.8L7.6 5.6C7.1 7 6.2 7.5 5.4 7.4Z" fill="#fff"/></svg></i><i><svg class="e" viewBox="0 0 10 10"><path d="M0 4C1.4 1.9 4.6 0.6 7.3 0.7L8.6 0 8.9 1.1C10 2.7 10.2 5.2 9.2 6.8 8.2 8.2 6.2 8.8 4.9 8.9L4.2 10 3.6 8.5C2.2 7.4 0.9 5.6 0 4Z" fill="#a7a5ac"/><path d="M1 4.3C3.2 3.1 6.9 2.8 9.5 3.8 9.6 5.2 9.2 6.2 8.6 6.9 7.4 7.9 5.8 8.2 4.6 8.1 3.2 7.2 1.9 5.8 1 4.3Z" fill="#c2addf"/><path d="M3.2 4.4C4.7 3.9 6.6 3.9 8.3 4.4L8.2 5.5 3.2 5.7Z" fill="#a98bd2"/><path d="M3.9 5.8L7.6 5.6C7.1 7 6.2 7.5 5.4 7.4Z" fill="#fff"/></svg></i></div>
<div class="c" style="left:669px;width:206px">6poCMz...HsVnP9</div>
<div class="c" style="left:875px;width:71px">100 $</div>
<div class="c" style="left:946px;width:86px">03-May-25 03:53</div>
</div>
<div class="r d up" style="top:319px;height:19px;--t:-7.75px">
<div class="c b" style="left:0px;width:30px">14</div>
<div class="c" style="left:30px;width:131px">ET9t2JdLp...8WoCWiePZ</div>
<div class="c" style="left:161px;width:66px">10,120,819</div>
<div class="c b" style="left:227px;width:45px">1.01 %</div>
<div class="c b" style="left:272px;width:45px">6,429 $</div>
<div class="c b" style="left:317px;width:46px">4,355 $</div>
<div class="c b g0" style="left:363px;width:50px">83.9%</div>
<div class="c" style="left:413px;width:81px">18-Nov-25 19:33</div>
<div class="c" style="left:494px;width:60px">930 $</div>
<div class="c" style="left:554px;width:115px">24,020 $ <i><svg class="e" viewBox="0 0 10 10"><path d="M0 4C1.4 1.9 4.6 0.6 7.3 0.7L8.6 0 8.9 1.1C10 2.7 10.2 5.2 9.2 6.8 8.2 8.2 6.2 8.8 4.9 8.9L4.2 10 3.6 8.5C2.2 7.4 0.9 5.6 0 4Z" fill="#a7a5ac"/><path d="M1 4.3C3.2 3.1 6.9 2.8 9.5 3.8 9.6 5.2 9.2 6.2 8.6 6.9 7.4 7.9 5.8 8.2 4.6 8.1 3.2 7.2 1.9 5.8 1 4.3Z" fill="#c2addf"/><path d="M3.2 4.4C4.7 3.9 6.6 3.9 8.3 4.4L8.2 5.5 3.2 5.7Z" fill="#a98bd2"/><path d="M3.9 5.8L7.6 5.6C7.1 7 6.2 7.5 5.4 7.4Z" fill="#fff"/></svg></i><i><svg class="e" viewBox="0 0 10 10"><path d="M0 4C1.4 1.9 4.6 0.6 7.3 0.7L8.6 0 8.9 1.1C10 2.7 10.2 5.2 9.2 6.8 8.2 8.2 6.2 8.8 4.9 8.9L4.2 10 3.6 8.5C2.2 7.4 0.9 5.6 0 4Z" fill="#a7a5ac"/><path d="M1 4.3C3.2 3.1 6.9 2.8 9.5 3.8 9.6 5.2 9.2 6.2 8.6 6.9 7.4 7.9 5.8 8.2 4.6 8.1 3.2 7.2 1.9 5.8 1 4.3Z" fill="#c2addf"/><path d="M3.2 4.4C4.7 3.9 6.6 3.9 8.3 4.4L8.2 5.5 3.2 5.7Z" fill="#a98bd2"/><path d="M3.9 5.8L7.6 5.6C7.1 7 6.2 7.5 5.4 7.4Z" fill="#fff"/></svg></i></div>
<div class="c" style="left:669px;width:206px">GYycyw...DNi7wS</div>
<div class="c" style="left:875px;width:71px">415.17 $</div>
<div class="c" style="left:946px;width:86px">27-Mar-25 20:28</div>
</div>
<div class="r d up" style="top:338px;height:19px;--t:-7.96px">
<div class="c b" style="left:0px;width:30px">15</div>
<div class="c" style="left:30px;width:131px">2xj7k3cxv...5uMAzXLy3</div>
<div class="c" style="left:161px;width:66px">10,098,508</div>
<div class="c b" style="left:227px;width:45px">1.01 %</div>
<div class="c b" style="left:272px;width:45px">1,400 $</div>
<div class="c b" style="left:317px;width:46px">3,634 $</div>
<div class="c b g1" style="left:363px;width:50px">638.71%</div>
<div class="c" style="left:413px;width:81px">18-Nov-25 17:18</div>
<div class="c" style="left:494px;width:60px">17 $</div>
<div class="c" style="left:554px;width:115px">209,026 $ <i><svg class="e" viewBox="0 0 10 10"><path d="M0 4C1.4 1.9 4.6 0.6 7.3 0.7L8.6 0 8.9 1.1C10 2.7 10.2 5.2 9.2 6.8 8.2 8.2 6.2 8.8 4.9 8.9L4.2 10 3.6 8.5C2.2 7.4 0.9 5.6 0 4Z" fill="#a7a5ac"/><path d="M1 4.3C3.2 3.1 6.9 2.8 9.5 3.8 9.6 5.2 9.2 6.2 8.6 6.9 7.4 7.9 5.8 8.2 4.6 8.1 3.2 7.2 1.9 5.8 1 4.3Z" fill="#c2addf"/><path d="M3.2 4.4C4.7 3.9 6.6 3.9 8.3 4.4L8.2 5.5 3.2 5.7Z" fill="#a98bd2"/><path d="M3.9 5.8L7.6 5.6C7.1 7 6.2 7.5 5.4 7.4Z" fill="#fff"/></svg></i><i><svg class="e" viewBox="0 0 10 10"><path d="M0.8 0H6.2L5.1 2.4H1.9Z" fill="#95d6fb"/><path d="M0 6C0 4 1.4 2.8 3.4 2.8 5 2.8 6.2 3.4 6.9 4.6L6.3 1.8 7.6 0 8.7 1.7C10.1 3.6 10.1 7 8.8 8.7 8.1 9.6 7.2 10 6 10H2.6C0.9 9.8 0 8 0 6Z" fill="#359ff7"/><path d="M0.5 4.6C2 2.9 5.4 3 6.6 4.8 6.8 5.6 6.6 6.4 6.2 7 4.6 5.6 2.2 5.4 0.4 6.2Z" fill="#41c2f7"/><path d="M0.9 6.1C2.4 5.1 4.6 5.3 5.7 6.7 5.9 8.1 5.4 9.3 4.8 9.9H2.6C1.4 9.4 0.9 7.7 0.9 6.1Z" fill="#c0d5ff"/><path d="M2 9.3H6.4L6.2 10H2.6Z" fill="#c9a4f8"/><path d="M6.3 2.5C7.9 2.9 8.6 4.8 8.2 6.5L6.7 5.2Z" fill="#fff"/></svg></i></div>
<div class="c" style="left:669px;width:206px">8G5PQ1...2nNv8e</div>
<div class="c" style="left:875px;width:71px">351.68 $</div>
<div class="c" style="left:946px;width:86px">12-Jun-25 22:49</div>
</div>
<div class="r d up" style="top:357px;height:19px;--t:-8.16px">
<div class="c b" style="left:0px;width:30px">16</div>
<div class="c" style="left:30px;width:131px">H33Ce5nTR...Hb1AmmHgV</div>
<div class="c" style="left:161px;width:66px">10,072,336</div>
<div class="c b" style="left:227px;width:45px">1.01 %</div>
<div class="c b" style="left:272px;width:45px">272 $</div>
<div class="c b" style="left:317px;width:46px">272 $</div>
<div class="c b g2" style="left:363px;width:50px">1125%</div>
<div class="c" style="left:413px;width:81px">18-Nov-25 17:24</div>
<div class="c" style="left:494px;width:60px">4 $</div>
<div class="c" style="left:554px;width:115px">27,742 $ <i><svg class="e" viewBox="0 0 10 10"><path d="M0 4C1.4 1.9 4.6 0.6 7.3 0.7L8.6 0 8.9 1.1C10 2.7 10.2 5.2 9.2 6.8 8.2 8.2 6.2 8.8 4.9 8.9L4.2 10 3.6 8.5C2.2 7.4 0.9 5.6 0 4Z" fill="#a7a5ac"/><path d="M1 4.3C3.2 3.1 6.9 2.8 9.5 3.8 9.6 5.2 9.2 6.2 8.6 6.9 7.4 7.9 5.8 8.2 4.6 8.1 3.2 7.2 1.9 5.8 1 4.3Z" fill="#c2addf"/><path d="M3.2 4.4C4.7 3.9 6.6 3.9 8.3 4.4L8.2 5.5 3.2 5.7Z" fill="#a98bd2"/><path d="M3.9 5.8L7.6 5.6C7.1 7 6.2 7.5 5.4 7.4Z" fill="#fff"/></svg></i><i><svg class="e" viewBox="0 0 10 10"><path d="M0 4C1.4 1.9 4.6 0.6 7.3 0.7L8.6 0 8.9 1.1C10 2.7 10.2 5.2 9.2 6.8 8.2 8.2 6.2 8.8 4.9 8.9L4.2 10 3.6 8.5C2.2 7.4 0.9 5.6 0 4Z" fill="#a7a5ac"/><path d="M1 4.3C3.2 3.1 6.9 2.8 9.5 3.8 9.6 5.2 9.2 6.2 8.6 6.9 7.4 7.9 5.8 8.2 4.6 8.1 3.2 7.2 1.9 5.8 1 4.3Z" fill="#c2addf"/><path d="M3.2 4.4C4.7 3.9 6.6 3.9 8.3 4.4L8.2 5.5 3.2 5.7Z" fill="#a98bd2"/><path d="M3.9 5.8L7.6 5.6C7.1 7 6.2 7.5 5.4 7.4Z" fill="#fff"/></svg></i></div>
<div class="c" style="left:669px;width:206px">Funded from Kraken Exchange</div>
<div class="c" style="left:875px;width:71px">1676.28 $</div>
<div class="c" style="left:946px;width:86px">24-Mar-24 15:36</div>
</div>
<div class="r d up" style="top:376px;height:18px;--t:-8.37px">
<div class="c b" style="left:0px;width:30px">17</div>
<div class="c" style="left:30px;width:131px">9RCGFF2as...cM8QgoPAH</div>
<div class="c" style="left:161px;width:66px">10,057,786</div>
<div class="c b" style="left:227px;width:45px">1.01 %</div>
<div class="c b" style="left:272px;width:45px">8,047 $</div>
<div class="c b" style="left:317px;width:46px">5,395 $</div>
<div class="c b g2" style="left:363px;width:50px">166.68%</div>
<div class="c" style="left:413px;width:81px">18-Nov-25 23:06</div>
<div class="c" style="left:494px;width:60px">2,934 $</div>
<div class="c" style="left:554px;width:115px">33,295 $ <i><svg class="e" viewBox="0 0 10 10"><path d="M0 4C1.4 1.9 4.6 0.6 7.3 0.7L8.6 0 8.9 1.1C10 2.7 10.2 5.2 9.2 6.8 8.2 8.2 6.2 8.8 4.9 8.9L4.2 10 3.6 8.5C2.2 7.4 0.9 5.6 0 4Z" fill="#a7a5ac"/><path d="M1 4.3C3.2 3.1 6.9 2.8 9.5 3.8 9.6 5.2 9.2 6.2 8.6 6.9 7.4 7.9 5.8 8.2 4.6 8.1 3.2 7.2 1.9 5.8 1 4.3Z" fill="#c2addf"/><path d="M3.2 4.4C4.7 3.9 6.6 3.9 8.3 4.4L8.2 5.5 3.2 5.7Z" fill="#a98bd2"/><path d="M3.9 5.8L7.6 5.6C7.1 7 6.2 7.5 5.4 7.4Z" fill="#fff"/></svg></i><i><svg class="e" viewBox="0 0 10 10"><path d="M0 4C1.4 1.9 4.6 0.6 7.3 0.7L8.6 0 8.9 1.1C10 2.7 10.2 5.2 9.2 6.8 8.2 8.2 6.2 8.8 4.9 8.9L4.2 10 3.6 8.5C2.2 7.4 0.9 5.6 0 4Z" fill="#a7a5ac"/><path d="M1 4.3C3.2 3.1 6.9 2.8 9.5 3.8 9.6 5.2 9.2 6.2 8.6 6.9 7.4 7.9 5.8 8.2 4.6 8.1 3.2 7.2 1.9 5.8 1 4.3Z" fill="#c2addf"/><path d="M3.2 4.4C4.7 3.9 6.6 3.9 8.3 4.4L8.2 5.5 3.2 5.7Z" fill="#a98bd2"/><path d="M3.9 5.8L7.6 5.6C7.1 7 6.2 7.5 5.4 7.4Z" fill="#fff"/></svg></i></div>
<div class="c" style="left:669px;width:206px">2UL8hb...LqkhNL</div>
<div class="c" style="left:875px;width:71px">10.77 $</div>
<div class="c" style="left:946px;width:86px">06-Nov-25 18:15</div>
</div>
<div class="r d" style="top:394px;height:19px;--t:-8.58px">
<div class="c b" style="left:0px;width:30px">18</div>
<div class="c" style="left:30px;width:131px">EwTNPYTuw...N87csKgtt</div>
<div class="c" style="left:161px;width:66px">9,710,039</div>
<div class="c b" style="left:227px;width:45px">0.97 %</div>
<div class="c b" style="left:272px;width:45px">4,842 $</div>
<div class="c b" style="left:317px;width:46px">1,579 $</div>
<div class="c b g0" style="left:363px;width:50px">80.59%</div>
<div class="c" style="left:413px;width:81px">19-Nov-25 04:01</div>
<div class="c" style="left:494px;width:60px">62,264 $</div>
<div class="c" style="left:554px;width:115px">239,171 $ <i><svg class="e" viewBox="0 0 10 10"><path d="M0 4C1.4 1.9 4.6 0.6 7.3 0.7L8.6 0 8.9 1.1C10 2.7 10.2 5.2 9.2 6.8 8.2 8.2 6.2 8.8 4.9 8.9L4.2 10 3.6 8.5C2.2 7.4 0.9 5.6 0 4Z" fill="#a7a5ac"/><path d="M1 4.3C3.2 3.1 6.9 2.8 9.5 3.8 9.6 5.2 9.2 6.2 8.6 6.9 7.4 7.9 5.8 8.2 4.6 8.1 3.2 7.2 1.9 5.8 1 4.3Z" fill="#c2addf"/><path d="M3.2 4.4C4.7 3.9 6.6 3.9 8.3 4.4L8.2 5.5 3.2 5.7Z" fill="#a98bd2"/><path d="M3.9 5.8L7.6 5.6C7.1 7 6.2 7.5 5.4 7.4Z" fill="#fff"/></svg></i><i><svg class="e" viewBox="0 0 10 10"><path d="M0.8 0H6.2L5.1 2.4H1.9Z" fill="#95d6fb"/><path d="M0 6C0 4 1.4 2.8 3.4 2.8 5 2.8 6.2 3.4 6.9 4.6L6.3 1.8 7.6 0 8.7 1.7C10.1 3.6 10.1 7 8.8 8.7 8.1 9.6 7.2 10 6 10H2.6C0.9 9.8 0 8 0 6Z" fill="#359ff7"/><path d="M0.5 4.6C2 2.9 5.4 3 6.6 4.8 6.8 5.6 6.6 6.4 6.2 7 4.6 5.6 2.2 5.4 0.4 6.2Z" fill="#41c2f7"/><path d="M0.9 6.1C2.4 5.1 4.6 5.3 5.7 6.7 5.9 8.1 5.4 9.3 4.8 9.9H2.6C1.4 9.4 0.9 7.7 0.9 6.1Z" fill="#c0d5ff"/><path d="M2 9.3H6.4L6.2 10H2.6Z" fill="#c9a4f8"/><path d="M6.3 2.5C7.9 2.9 8.6 4.8 8.2 6.5L6.7 5.2Z" fill="#fff"/></svg></i></div>
<div class="c" style="left:669px;width:206px">Funded from Binance Exchange</div>
<div class="c" style="left:875px;width:71px">9997 $</div>
<div class="c" style="left:946px;width:86px">08-Feb-25 02:59</div>
</div>
<div class="r d up" style="top:413px;height:19px;--t:-7.78px">
<div class="c b" style="left:0px;width:30px">19</div>
<div class="c" style="left:30px;width:131px">9RmDnTNAk...ATLpqP7if</div>
<div class="c" style="left:161px;width:66px">7,702,929</div>
<div class="c b" style="left:227px;width:45px">0.77 %</div>
<div class="c b" style="left:272px;width:45px">3,754 $</div>
<div class="c b" style="left:317px;width:46px">2,041 $</div>
<div class="c b g0" style="left:363px;width:50px">70.35%</div>
<div class="c" style="left:413px;width:81px">19-Nov-25 12:55</div>
<div class="c" style="left:494px;width:60px">19 $</div>
<div class="c" style="left:554px;width:115px">59,238 $ <i><svg class="e" viewBox="0 0 10 10"><path d="M0 4C1.4 1.9 4.6 0.6 7.3 0.7L8.6 0 8.9 1.1C10 2.7 10.2 5.2 9.2 6.8 8.2 8.2 6.2 8.8 4.9 8.9L4.2 10 3.6 8.5C2.2 7.4 0.9 5.6 0 4Z" fill="#a7a5ac"/><path d="M1 4.3C3.2 3.1 6.9 2.8 9.5 3.8 9.6 5.2 9.2 6.2 8.6 6.9 7.4 7.9 5.8 8.2 4.6 8.1 3.2 7.2 1.9 5.8 1 4.3Z" fill="#c2addf"/><path d="M3.2 4.4C4.7 3.9 6.6 3.9 8.3 4.4L8.2 5.5 3.2 5.7Z" fill="#a98bd2"/><path d="M3.9 5.8L7.6 5.6C7.1 7 6.2 7.5 5.4 7.4Z" fill="#fff"/></svg></i><i><svg class="e" viewBox="0 0 10 10"><path d="M0 4C1.4 1.9 4.6 0.6 7.3 0.7L8.6 0 8.9 1.1C10 2.7 10.2 5.2 9.2 6.8 8.2 8.2 6.2 8.8 4.9 8.9L4.2 10 3.6 8.5C2.2 7.4 0.9 5.6 0 4Z" fill="#a7a5ac"/><path d="M1 4.3C3.2 3.1 6.9 2.8 9.5 3.8 9.6 5.2 9.2 6.2 8.6 6.9 7.4 7.9 5.8 8.2 4.6 8.1 3.2 7.2 1.9 5.8 1 4.3Z" fill="#c2addf"/><path d="M3.2 4.4C4.7 3.9 6.6 3.9 8.3 4.4L8.2 5.5 3.2 5.7Z" fill="#a98bd2"/><path d="M3.9 5.8L7.6 5.6C7.1 7 6.2 7.5 5.4 7.4Z" fill="#fff"/></svg></i><i><svg class="e" viewBox="0 0 10 10"><path d="M0 4C1.4 1.9 4.6 0.6 7.3 0.7L8.6 0 8.9 1.1C10 2.7 10.2 5.2 9.2 6.8 8.2 8.2 6.2 8.8 4.9 8.9L4.2 10 3.6 8.5C2.2 7.4 0.9 5.6 0 4Z" fill="#a7a5ac"/><path d="M1 4.3C3.2 3.1 6.9 2.8 9.5 3.8 9.6 5.2 9.2 6.2 8.6 6.9 7.4 7.9 5.8 8.2 4.6 8.1 3.2 7.2 1.9 5.8 1 4.3Z" fill="#c2addf"/><path d="M3.2 4.4C4.7 3.9 6.6 3.9 8.3 4.4L8.2 5.5 3.2 5.7Z" fill="#a98bd2"/><path d="M3.9 5.8L7.6 5.6C7.1 7 6.2 7.5 5.4 7.4Z" fill="#fff"/></svg></i></div>
<div class="c" style="left:669px;width:206px">Funded from Coinbase Exchange Hot Wallet</div>
<div class="c" style="left:875px;width:71px">55.9 $</div>
<div class="c" style="left:946px;width:86px">07-Jun-25 21:10</div>
</div>
<div class="r d up" style="top:432px;height:19px;--t:-7.99px">
<div class="c b" style="left:0px;width:30px">20</div>
<div class="c" style="left:30px;width:131px">2Cj6qQvCs...RrPZJiukU</div>
<div class="c" style="left:161px;width:66px">7,578,678</div>
<div class="c b" style="left:227px;width:45px">0.76 %</div>
<div class="c b" style="left:272px;width:45px">3,470 $</div>
<div class="c b" style="left:317px;width:46px">-</div>
<div class="c b g0" style="left:363px;width:50px">61.15%</div>
<div class="c" style="left:413px;width:81px">18-Nov-25 23:08</div>
<div class="c" style="left:494px;width:60px">29 $</div>
<div class="c" style="left:554px;width:115px">788,945 $ <i><svg class="e" viewBox="0 0 10 10"><path d="M0.8 0H6.2L5.1 2.4H1.9Z" fill="#95d6fb"/><path d="M0 6C0 4 1.4 2.8 3.4 2.8 5 2.8 6.2 3.4 6.9 4.6L6.3 1.8 7.6 0 8.7 1.7C10.1 3.6 10.1 7 8.8 8.7 8.1 9.6 7.2 10 6 10H2.6C0.9 9.8 0 8 0 6Z" fill="#359ff7"/><path d="M0.5 4.6C2 2.9 5.4 3 6.6 4.8 6.8 5.6 6.6 6.4 6.2 7 4.6 5.6 2.2 5.4 0.4 6.2Z" fill="#41c2f7"/><path d="M0.9 6.1C2.4 5.1 4.6 5.3 5.7 6.7 5.9 8.1 5.4 9.3 4.8 9.9H2.6C1.4 9.4 0.9 7.7 0.9 6.1Z" fill="#c0d5ff"/><path d="M2 9.3H6.4L6.2 10H2.6Z" fill="#c9a4f8"/><path d="M6.3 2.5C7.9 2.9 8.6 4.8 8.2 6.5L6.7 5.2Z" fill="#fff"/></svg></i><i><svg class="e" viewBox="0 0 10 10"><path d="M0.8 0H6.2L5.1 2.4H1.9Z" fill="#95d6fb"/><path d="M0 6C0 4 1.4 2.8 3.4 2.8 5 2.8 6.2 3.4 6.9 4.6L6.3 1.8 7.6 0 8.7 1.7C10.1 3.6 10.1 7 8.8 8.7 8.1 9.6 7.2 10 6 10H2.6C0.9 9.8 0 8 0 6Z" fill="#359ff7"/><path d="M0.5 4.6C2 2.9 5.4 3 6.6 4.8 6.8 5.6 6.6 6.4 6.2 7 4.6 5.6 2.2 5.4 0.4 6.2Z" fill="#41c2f7"/><path d="M0.9 6.1C2.4 5.1 4.6 5.3 5.7 6.7 5.9 8.1 5.4 9.3 4.8 9.9H2.6C1.4 9.4 0.9 7.7 0.9 6.1Z" fill="#c0d5ff"/><path d="M2 9.3H6.4L6.2 10H2.6Z" fill="#c9a4f8"/><path d="M6.3 2.5C7.9 2.9 8.6 4.8 8.2 6.5L6.7 5.2Z" fill="#fff"/></svg></i><i><svg class="e" viewBox="0 0 10 10"><path d="M0.8 0H6.2L5.1 2.4H1.9Z" fill="#95d6fb"/><path d="M0 6C0 4 1.4 2.8 3.4 2.8 5 2.8 6.2 3.4 6.9 4.6L6.3 1.8 7.6 0 8.7 1.7C10.1 3.6 10.1 7 8.8 8.7 8.1 9.6 7.2 10 6 10H2.6C0.9 9.8 0 8 0 6Z" fill="#359ff7"/><path d="M0.5 4.6C2 2.9 5.4 3 6.6 4.8 6.8 5.6 6.6 6.4 6.2 7 4.6 5.6 2.2 5.4 0.4 6.2Z" fill="#41c2f7"/><path d="M0.9 6.1C2.4 5.1 4.6 5.3 5.7 6.7 5.9 8.1 5.4 9.3 4.8 9.9H2.6C1.4 9.4 0.9 7.7 0.9 6.1Z" fill="#c0d5ff"/><path d="M2 9.3H6.4L6.2 10H2.6Z" fill="#c9a4f8"/><path d="M6.3 2.5C7.9 2.9 8.6 4.8 8.2 6.5L6.7 5.2Z" fill="#fff"/></svg></i></div>
<div class="c" style="left:669px;width:206px">BE2P4a...j3QNQL</div>
<div class="c" style="left:875px;width:71px">7128.16 $</div>
<div class="c" style="left:946px;width:86px">10-Jun-25 21:53</div>
</div>
<div class="r d up" style="top:451px;height:19px;--t:-8.19px">
<div class="c b" style="left:0px;width:30px">21</div>
<div class="c" style="left:30px;width:131px">BzaxsUXbk...LjTPNxfZ8</div>
<div class="c" style="left:161px;width:66px">7,572,735</div>
<div class="c b" style="left:227px;width:45px">0.76 %</div>
<div class="c b" style="left:272px;width:45px">3,176 $</div>
<div class="c b" style="left:317px;width:46px">660 $</div>
<div class="c b g0" style="left:363px;width:50px">96.73%</div>
<div class="c" style="left:413px;width:81px">18-Nov-25 20:31</div>
<div class="c" style="left:494px;width:60px">141,563 $</div>
<div class="c" style="left:554px;width:115px">213,059 $ <i><svg class="e" viewBox="0 0 10 10"><path d="M0 4C1.4 1.9 4.6 0.6 7.3 0.7L8.6 0 8.9 1.1C10 2.7 10.2 5.2 9.2 6.8 8.2 8.2 6.2 8.8 4.9 8.9L4.2 10 3.6 8.5C2.2 7.4 0.9 5.6 0 4Z" fill="#a7a5ac"/><path d="M1 4.3C3.2 3.1 6.9 2.8 9.5 3.8 9.6 5.2 9.2 6.2 8.6 6.9 7.4 7.9 5.8 8.2 4.6 8.1 3.2 7.2 1.9 5.8 1 4.3Z" fill="#c2addf"/><path d="M3.2 4.4C4.7 3.9 6.6 3.9 8.3 4.4L8.2 5.5 3.2 5.7Z" fill="#a98bd2"/><path d="M3.9 5.8L7.6 5.6C7.1 7 6.2 7.5 5.4 7.4Z" fill="#fff"/></svg></i><i><svg class="e" viewBox="0 0 10 10"><path d="M0.8 0H6.2L5.1 2.4H1.9Z" fill="#95d6fb"/><path d="M0 6C0 4 1.4 2.8 3.4 2.8 5 2.8 6.2 3.4 6.9 4.6L6.3 1.8 7.6 0 8.7 1.7C10.1 3.6 10.1 7 8.8 8.7 8.1 9.6 7.2 10 6 10H2.6C0.9 9.8 0 8 0 6Z" fill="#359ff7"/><path d="M0.5 4.6C2 2.9 5.4 3 6.6 4.8 6.8 5.6 6.6 6.4 6.2 7 4.6 5.6 2.2 5.4 0.4 6.2Z" fill="#41c2f7"/><path d="M0.9 6.1C2.4 5.1 4.6 5.3 5.7 6.7 5.9 8.1 5.4 9.3 4.8 9.9H2.6C1.4 9.4 0.9 7.7 0.9 6.1Z" fill="#c0d5ff"/><path d="M2 9.3H6.4L6.2 10H2.6Z" fill="#c9a4f8"/><path d="M6.3 2.5C7.9 2.9 8.6 4.8 8.2 6.5L6.7 5.2Z" fill="#fff"/></svg></i></div>
<div class="c" style="left:669px;width:206px">Funded from Coinbase Exchange</div>
<div class="c" style="left:875px;width:71px">48401.98 $</div>
<div class="c" style="left:946px;width:86px">30-Jun-25 23:03</div>
</div>
<div class="r d up" style="top:470px;height:18px;--t:-8.4px">
<div class="c b" style="left:0px;width:30px">22</div>
<div class="c" style="left:30px;width:131px">EoQsBj9bu...CfBmfQbMw</div>
<div class="c" style="left:161px;width:66px">7,129,146</div>
<div class="c b" style="left:227px;width:45px">0.71 %</div>
<div class="c b" style="left:272px;width:45px">6,232 $</div>
<div class="c b" style="left:317px;width:46px">1,655 $</div>
<div class="c b g0" style="left:363px;width:50px">10.96%</div>
<div class="c" style="left:413px;width:81px">19-Nov-25 05:10</div>
<div class="c" style="left:494px;width:60px">593 $</div>
<div class="c" style="left:554px;width:115px">10,095 $ <i><svg class="e" viewBox="0 0 10 10"><path d="M0 4C1.4 1.9 4.6 0.6 7.3 0.7L8.6 0 8.9 1.1C10 2.7 10.2 5.2 9.2 6.8 8.2 8.2 6.2 8.8 4.9 8.9L4.2 10 3.6 8.5C2.2 7.4 0.9 5.6 0 4Z" fill="#a7a5ac"/><path d="M1 4.3C3.2 3.1 6.9 2.8 9.5 3.8 9.6 5.2 9.2 6.2 8.6 6.9 7.4 7.9 5.8 8.2 4.6 8.1 3.2 7.2 1.9 5.8 1 4.3Z" fill="#c2addf"/><path d="M3.2 4.4C4.7 3.9 6.6 3.9 8.3 4.4L8.2 5.5 3.2 5.7Z" fill="#a98bd2"/><path d="M3.9 5.8L7.6 5.6C7.1 7 6.2 7.5 5.4 7.4Z" fill="#fff"/></svg></i><i><svg class="e" viewBox="0 0 10 10"><path d="M0 4C1.4 1.9 4.6 0.6 7.3 0.7L8.6 0 8.9 1.1C10 2.7 10.2 5.2 9.2 6.8 8.2 8.2 6.2 8.8 4.9 8.9L4.2 10 3.6 8.5C2.2 7.4 0.9 5.6 0 4Z" fill="#a7a5ac"/><path d="M1 4.3C3.2 3.1 6.9 2.8 9.5 3.8 9.6 5.2 9.2 6.2 8.6 6.9 7.4 7.9 5.8 8.2 4.6 8.1 3.2 7.2 1.9 5.8 1 4.3Z" fill="#c2addf"/><path d="M3.2 4.4C4.7 3.9 6.6 3.9 8.3 4.4L8.2 5.5 3.2 5.7Z" fill="#a98bd2"/><path d="M3.9 5.8L7.6 5.6C7.1 7 6.2 7.5 5.4 7.4Z" fill="#fff"/></svg></i></div>
<div class="c" style="left:669px;width:206px">Eb5JAP...q1iByU</div>
<div class="c" style="left:875px;width:71px">534.06 $</div>
<div class="c" style="left:946px;width:86px">13-Nov-25 10:04</div>
</div>
<div class="r d" style="top:488px;height:19px;--t:-8.61px">
<div class="c b" style="left:0px;width:30px">23</div>
<div class="c" style="left:30px;width:131px">4bPHNPbqb...ju9jPbYaJ</div>
<div class="c" style="left:161px;width:66px">7,085,657</div>
<div class="c b" style="left:227px;width:45px">0.71 %</div>
<div class="c b" style="left:272px;width:45px">3,617 $</div>
<div class="c b" style="left:317px;width:46px">-</div>
<div class="c b g0" style="left:363px;width:50px">44.54%</div>
<div class="c" style="left:413px;width:81px">18-Nov-25 21:44</div>
<div class="c" style="left:494px;width:60px">17 $</div>
<div class="c" style="left:554px;width:115px">14,068 $ <i><svg class="e" viewBox="0 0 10 10"><path d="M0 4C1.4 1.9 4.6 0.6 7.3 0.7L8.6 0 8.9 1.1C10 2.7 10.2 5.2 9.2 6.8 8.2 8.2 6.2 8.8 4.9 8.9L4.2 10 3.6 8.5C2.2 7.4 0.9 5.6 0 4Z" fill="#a7a5ac"/><path d="M1 4.3C3.2 3.1 6.9 2.8 9.5 3.8 9.6 5.2 9.2 6.2 8.6 6.9 7.4 7.9 5.8 8.2 4.6 8.1 3.2 7.2 1.9 5.8 1 4.3Z" fill="#c2addf"/><path d="M3.2 4.4C4.7 3.9 6.6 3.9 8.3 4.4L8.2 5.5 3.2 5.7Z" fill="#a98bd2"/><path d="M3.9 5.8L7.6 5.6C7.1 7 6.2 7.5 5.4 7.4Z" fill="#fff"/></svg></i><i><svg class="e" viewBox="0 0 10 10"><path d="M0 4C1.4 1.9 4.6 0.6 7.3 0.7L8.6 0 8.9 1.1C10 2.7 10.2 5.2 9.2 6.8 8.2 8.2 6.2 8.8 4.9 8.9L4.2 10 3.6 8.5C2.2 7.4 0.9 5.6 0 4Z" fill="#a7a5ac"/><path d="M1 4.3C3.2 3.1 6.9 2.8 9.5 3.8 9.6 5.2 9.2 6.2 8.6 6.9 7.4 7.9 5.8 8.2 4.6 8.1 3.2 7.2 1.9 5.8 1 4.3Z" fill="#c2addf"/><path d="M3.2 4.4C4.7 3.9 6.6 3.9 8.3 4.4L8.2 5.5 3.2 5.7Z" fill="#a98bd2"/><path d="M3.9 5.8L7.6 5.6C7.1 7 6.2 7.5 5.4 7.4Z" fill="#fff"/></svg></i></div>
<div class="c" style="left:669px;width:206px">435eCQ...cTp52S</div>
<div class="c" style="left:875px;width:71px">210.46 $</div>
<div class="c" style="left:946px;width:86px">29-Sept-25 17:05</div>
</div>
<div class="r d up" style="top:507px;height:19px;--t:-7.81px">
<div class="c b" style="left:0px;width:30px">24</div>
<div class="c" style="left:30px;width:131px">5cgJxGHwt...93sCDrhff</div>
<div class="c" style="left:161px;width:66px">6,884,204</div>
<div class="c b" style="left:227px;width:45px">0.69 %</div>
<div class="c b" style="left:272px;width:45px">3,034 $</div>
<div class="c b" style="left:317px;width:46px">-</div>
<div class="c b g0" style="left:363px;width:50px">67.44%</div>
<div class="c" style="left:413px;width:81px">18-Nov-25 20:54</div>
<div class="c" style="left:494px;width:60px">794 $</div>
<div class="c" style="left:554px;width:115px">6,816 $ <i><svg class="e" viewBox="0 0 10 10"><path d="M3.4 2.6L4.4 1 6.6 1.1 6.8 3C7.4 3.4 7.8 3.9 8.1 4.5L9.6 2.4 10 2.8 9.3 5.4 10 8.4 9.5 8.8 8 6.8C7.3 8.2 6 9.5 4.6 9.6 2.3 9.6 0.4 7.8 0 5.8 0.4 4.2 1.8 3 3.4 2.6Z" fill="#2f8ff2"/><path d="M0.6 5.6C1 4.4 2.3 3.5 3.8 3.4 4.4 4.8 4.2 7 3.4 8.2 2 7.8 0.9 6.7 0.6 5.6Z" fill="#39acf6"/><path d="M3 8.9C4.6 9.1 6.4 8.2 7.5 6.7 7.1 8.2 5.9 9.5 4.6 9.6 4 9.6 3.4 9.3 3 8.9Z" fill="#4b76f0"/></svg></i><i><svg class="e" viewBox="0 0 10 10"><path d="M3.4 2.6L4.4 1 6.6 1.1 6.8 3C7.4 3.4 7.8 3.9 8.1 4.5L9.6 2.4 10 2.8 9.3 5.4 10 8.4 9.5 8.8 8 6.8C7.3 8.2 6 9.5 4.6 9.6 2.3 9.6 0.4 7.8 0 5.8 0.4 4.2 1.8 3 3.4 2.6Z" fill="#2f8ff2"/><path d="M0.6 5.6C1 4.4 2.3 3.5 3.8 3.4 4.4 4.8 4.2 7 3.4 8.2 2 7.8 0.9 6.7 0.6 5.6Z" fill="#39acf6"/><path d="M3 8.9C4.6 9.1 6.4 8.2 7.5 6.7 7.1 8.2 5.9 9.5 4.6 9.6 4 9.6 3.4 9.3 3 8.9Z" fill="#4b76f0"/></svg></i></div>
<div class="c" style="left:669px;width:206px">Funded from Bitget Exchange</div>
<div class="c" style="left:875px;width:71px">5979.25 $</div>
<div class="c" style="left:946px;width:86px">12-Jun-24 18:23</div>
</div>
<div class="r d up" style="top:526px;height:19px;--t:-8.02px">
<div class="c b" style="left:0px;width:30px">25</div>
<div class="c" style="left:30px;width:131px">82SYuHsMc...VzYywxFxU</div>
<div class="c" style="left:161px;width:66px">6,785,531</div>
<div class="c b" style="left:227px;width:45px">0.68 %</div>
<div class="c b" style="left:272px;width:45px">5,723 $</div>
<div class="c b" style="left:317px;width:46px">4,708 $</div>
<div class="c b g0" style="left:363px;width:50px">69.75%</div>
<div class="c" style="left:413px;width:81px">18-Nov-25 18:06</div>
<div class="c" style="left:494px;width:60px">2,187 $</div>
<div class="c" style="left:554px;width:115px">6,937 $ <i><svg class="e" viewBox="0 0 10 10"><path d="M3.4 2.6L4.4 1 6.6 1.1 6.8 3C7.4 3.4 7.8 3.9 8.1 4.5L9.6 2.4 10 2.8 9.3 5.4 10 8.4 9.5 8.8 8 6.8C7.3 8.2 6 9.5 4.6 9.6 2.3 9.6 0.4 7.8 0 5.8 0.4 4.2 1.8 3 3.4 2.6Z" fill="#2f8ff2"/><path d="M0.6 5.6C1 4.4 2.3 3.5 3.8 3.4 4.4 4.8 4.2 7 3.4 8.2 2 7.8 0.9 6.7 0.6 5.6Z" fill="#39acf6"/><path d="M3 8.9C4.6 9.1 6.4 8.2 7.5 6.7 7.1 8.2 5.9 9.5 4.6 9.6 4 9.6 3.4 9.3 3 8.9Z" fill="#4b76f0"/></svg></i><i><svg class="e" viewBox="0 0 10 10"><path d="M3.4 2.6L4.4 1 6.6 1.1 6.8 3C7.4 3.4 7.8 3.9 8.1 4.5L9.6 2.4 10 2.8 9.3 5.4 10 8.4 9.5 8.8 8 6.8C7.3 8.2 6 9.5 4.6 9.6 2.3 9.6 0.4 7.8 0 5.8 0.4 4.2 1.8 3 3.4 2.6Z" fill="#2f8ff2"/><path d="M0.6 5.6C1 4.4 2.3 3.5 3.8 3.4 4.4 4.8 4.2 7 3.4 8.2 2 7.8 0.9 6.7 0.6 5.6Z" fill="#39acf6"/><path d="M3 8.9C4.6 9.1 6.4 8.2 7.5 6.7 7.1 8.2 5.9 9.5 4.6 9.6 4 9.6 3.4 9.3 3 8.9Z" fill="#4b76f0"/></svg></i></div>
<div class="c" style="left:669px;width:206px">5qBzoW...hs3gJi</div>
<div class="c" style="left:875px;width:71px">358.64 $</div>
<div class="c" style="left:946px;width:86px">21-Sept-25 14:14</div>
</div>
<div class="r d up" style="top:545px;height:19px;--t:-8.22px">
<div class="c b" style="left:0px;width:30px">26</div>
<div class="c" style="left:30px;width:131px">FTuVz99N6...cYffbViYT</div>
<div class="c" style="left:161px;width:66px">6,730,320</div>
<div class="c b" style="left:227px;width:45px">0.67 %</div>
<div class="c b" style="left:272px;width:45px">1,132 $</div>
<div class="c b" style="left:317px;width:46px">-</div>
<div class="c b g1" style="left:363px;width:50px">338.69%</div>
<div class="c" style="left:413px;width:81px">18-Nov-25 17:38</div>
<div class="c" style="left:494px;width:60px">873 $</div>
<div class="c" style="left:554px;width:115px">116,501 $ <i><svg class="e" viewBox="0 0 10 10"><path d="M0 4C1.4 1.9 4.6 0.6 7.3 0.7L8.6 0 8.9 1.1C10 2.7 10.2 5.2 9.2 6.8 8.2 8.2 6.2 8.8 4.9 8.9L4.2 10 3.6 8.5C2.2 7.4 0.9 5.6 0 4Z" fill="#a7a5ac"/><path d="M1 4.3C3.2 3.1 6.9 2.8 9.5 3.8 9.6 5.2 9.2 6.2 8.6 6.9 7.4 7.9 5.8 8.2 4.6 8.1 3.2 7.2 1.9 5.8 1 4.3Z" fill="#c2addf"/><path d="M3.2 4.4C4.7 3.9 6.6 3.9 8.3 4.4L8.2 5.5 3.2 5.7Z" fill="#a98bd2"/><path d="M3.9 5.8L7.6 5.6C7.1 7 6.2 7.5 5.4 7.4Z" fill="#fff"/></svg></i><i><svg class="e" viewBox="0 0 10 10"><path d="M0.8 0H6.2L5.1 2.4H1.9Z" fill="#95d6fb"/><path d="M0 6C0 4 1.4 2.8 3.4 2.8 5 2.8 6.2 3.4 6.9 4.6L6.3 1.8 7.6 0 8.7 1.7C10.1 3.6 10.1 7 8.8 8.7 8.1 9.6 7.2 10 6 10H2.6C0.9 9.8 0 8 0 6Z" fill="#359ff7"/><path d="M0.5 4.6C2 2.9 5.4 3 6.6 4.8 6.8 5.6 6.6 6.4 6.2 7 4.6 5.6 2.2 5.4 0.4 6.2Z" fill="#41c2f7"/><path d="M0.9 6.1C2.4 5.1 4.6 5.3 5.7 6.7 5.9 8.1 5.4 9.3 4.8 9.9H2.6C1.4 9.4 0.9 7.7 0.9 6.1Z" fill="#c0d5ff"/><path d="M2 9.3H6.4L6.2 10H2.6Z" fill="#c9a4f8"/><path d="M6.3 2.5C7.9 2.9 8.6 4.8 8.2 6.5L6.7 5.2Z" fill="#fff"/></svg></i></div>
<div class="c" style="left:669px;width:206px">FpwQQh...83E99Q</div>
<div class="c" style="left:875px;width:71px">13705.96 $</div>
<div class="c" style="left:946px;width:86px">07-May-25 19:05</div>
</div>
<div class="r d up" style="top:564px;height:18px;--t:-8.43px">
<div class="c b" style="left:0px;width:30px">27</div>
<div class="c" style="left:30px;width:131px">DX3vcfgJf...nXKnUnNjp</div>
<div class="c" style="left:161px;width:66px">6,707,088</div>
<div class="c b" style="left:227px;width:45px">0.67 %</div>
<div class="c b" style="left:272px;width:45px">3,481 $</div>
<div class="c b" style="left:317px;width:46px">-</div>
<div class="c b g0" style="left:363px;width:50px">42.17%</div>
<div class="c" style="left:413px;width:81px">19-Nov-25 08:44</div>
<div class="c" style="left:494px;width:60px">180 $</div>
<div class="c" style="left:554px;width:115px">63,995 $ <i><svg class="e" viewBox="0 0 10 10"><path d="M0 4C1.4 1.9 4.6 0.6 7.3 0.7L8.6 0 8.9 1.1C10 2.7 10.2 5.2 9.2 6.8 8.2 8.2 6.2 8.8 4.9 8.9L4.2 10 3.6 8.5C2.2 7.4 0.9 5.6 0 4Z" fill="#a7a5ac"/><path d="M1 4.3C3.2 3.1 6.9 2.8 9.5 3.8 9.6 5.2 9.2 6.2 8.6 6.9 7.4 7.9 5.8 8.2 4.6 8.1 3.2 7.2 1.9 5.8 1 4.3Z" fill="#c2addf"/><path d="M3.2 4.4C4.7 3.9 6.6 3.9 8.3 4.4L8.2 5.5 3.2 5.7Z" fill="#a98bd2"/><path d="M3.9 5.8L7.6 5.6C7.1 7 6.2 7.5 5.4 7.4Z" fill="#fff"/></svg></i><i><svg class="e" viewBox="0 0 10 10"><path d="M0 4C1.4 1.9 4.6 0.6 7.3 0.7L8.6 0 8.9 1.1C10 2.7 10.2 5.2 9.2 6.8 8.2 8.2 6.2 8.8 4.9 8.9L4.2 10 3.6 8.5C2.2 7.4 0.9 5.6 0 4Z" fill="#a7a5ac"/><path d="M1 4.3C3.2 3.1 6.9 2.8 9.5 3.8 9.6 5.2 9.2 6.2 8.6 6.9 7.4 7.9 5.8 8.2 4.6 8.1 3.2 7.2 1.9 5.8 1 4.3Z" fill="#c2addf"/><path d="M3.2 4.4C4.7 3.9 6.6 3.9 8.3 4.4L8.2 5.5 3.2 5.7Z" fill="#a98bd2"/><path d="M3.9 5.8L7.6 5.6C7.1 7 6.2 7.5 5.4 7.4Z" fill="#fff"/></svg></i><i><svg class="e" viewBox="0 0 10 10"><path d="M0 4C1.4 1.9 4.6 0.6 7.3 0.7L8.6 0 8.9 1.1C10 2.7 10.2 5.2 9.2 6.8 8.2 8.2 6.2 8.8 4.9 8.9L4.2 10 3.6 8.5C2.2 7.4 0.9 5.6 0 4Z" fill="#a7a5ac"/><path d="M1 4.3C3.2 3.1 6.9 2.8 9.5 3.8 9.6 5.2 9.2 6.2 8.6 6.9 7.4 7.9 5.8 8.2 4.6 8.1 3.2 7.2 1.9 5.8 1 4.3Z" fill="#c2addf"/><path d="M3.2 4.4C4.7 3.9 6.6 3.9 8.3 4.4L8.2 5.5 3.2 5.7Z" fill="#a98bd2"/><path d="M3.9 5.8L7.6 5.6C7.1 7 6.2 7.5 5.4 7.4Z" fill="#fff"/></svg></i></div>
<div class="c" style="left:669px;width:206px">Rollbit Treasury</div>
<div class="c" style="left:875px;width:71px">488.64 $</div>
<div class="c" style="left:946px;width:86px">01-Jan-24 07:06</div>
</div>
<div class="r d" style="top:582px;height:19px;--t:-8.64px">
<div class="c b" style="left:0px;width:30px">28</div>
<div class="c" style="left:30px;width:131px">FaGErw7Nz...1azdteu3P</div>
<div class="c" style="left:161px;width:66px">6,687,549</div>
<div class="c b" style="left:227px;width:45px">0.67 %</div>
<div class="c b" style="left:272px;width:45px">784 $</div>
<div class="c b" style="left:317px;width:46px">70 $</div>
<div class="c b g1" style="left:363px;width:50px">538.39%</div>
<div class="c" style="left:413px;width:81px">18-Nov-25 16:45</div>
<div class="c" style="left:494px;width:60px">9 $</div>
<div class="c" style="left:554px;width:115px">38,928 $ <i><svg class="e" viewBox="0 0 10 10"><path d="M0 4C1.4 1.9 4.6 0.6 7.3 0.7L8.6 0 8.9 1.1C10 2.7 10.2 5.2 9.2 6.8 8.2 8.2 6.2 8.8 4.9 8.9L4.2 10 3.6 8.5C2.2 7.4 0.9 5.6 0 4Z" fill="#a7a5ac"/><path d="M1 4.3C3.2 3.1 6.9 2.8 9.5 3.8 9.6 5.2 9.2 6.2 8.6 6.9 7.4 7.9 5.8 8.2 4.6 8.1 3.2 7.2 1.9 5.8 1 4.3Z" fill="#c2addf"/><path d="M3.2 4.4C4.7 3.9 6.6 3.9 8.3 4.4L8.2 5.5 3.2 5.7Z" fill="#a98bd2"/><path d="M3.9 5.8L7.6 5.6C7.1 7 6.2 7.5 5.4 7.4Z" fill="#fff"/></svg></i><i><svg class="e" viewBox="0 0 10 10"><path d="M0 4C1.4 1.9 4.6 0.6 7.3 0.7L8.6 0 8.9 1.1C10 2.7 10.2 5.2 9.2 6.8 8.2 8.2 6.2 8.8 4.9 8.9L4.2 10 3.6 8.5C2.2 7.4 0.9 5.6 0 4Z" fill="#a7a5ac"/><path d="M1 4.3C3.2 3.1 6.9 2.8 9.5 3.8 9.6 5.2 9.2 6.2 8.6 6.9 7.4 7.9 5.8 8.2 4.6 8.1 3.2 7.2 1.9 5.8 1 4.3Z" fill="#c2addf"/><path d="M3.2 4.4C4.7 3.9 6.6 3.9 8.3 4.4L8.2 5.5 3.2 5.7Z" fill="#a98bd2"/><path d="M3.9 5.8L7.6 5.6C7.1 7 6.2 7.5 5.4 7.4Z" fill="#fff"/></svg></i></div>
<div class="c" style="left:669px;width:206px">HmQEVN...fgfUjs</div>
<div class="c" style="left:875px;width:71px">434.73 $</div>
<div class="c" style="left:946px;width:86px">10-Mar-24 14:43</div>
</div>
<div class="r d up" style="top:601px;height:19px;--t:-7.84px">
<div class="c b" style="left:0px;width:30px">29</div>
<div class="c" style="left:30px;width:131px">DVBQar5bm...GSv8HZb9y</div>
<div class="c" style="left:161px;width:66px">6,570,541</div>
<div class="c b" style="left:227px;width:45px">0.66 %</div>
<div class="c b" style="left:272px;width:45px">4,192 $</div>
<div class="c b" style="left:317px;width:46px">-</div>
<div class="c b g0" style="left:363px;width:50px">15.65%</div>
<div class="c" style="left:413px;width:81px">18-Nov-25 21:57</div>
<div class="c" style="left:494px;width:60px">3,492 $</div>
<div class="c" style="left:554px;width:115px">8,092 $ <i><svg class="e" viewBox="0 0 10 10"><path d="M3.4 2.6L4.4 1 6.6 1.1 6.8 3C7.4 3.4 7.8 3.9 8.1 4.5L9.6 2.4 10 2.8 9.3 5.4 10 8.4 9.5 8.8 8 6.8C7.3 8.2 6 9.5 4.6 9.6 2.3 9.6 0.4 7.8 0 5.8 0.4 4.2 1.8 3 3.4 2.6Z" fill="#2f8ff2"/><path d="M0.6 5.6C1 4.4 2.3 3.5 3.8 3.4 4.4 4.8 4.2 7 3.4 8.2 2 7.8 0.9 6.7 0.6 5.6Z" fill="#39acf6"/><path d="M3 8.9C4.6 9.1 6.4 8.2 7.5 6.7 7.1 8.2 5.9 9.5 4.6 9.6 4 9.6 3.4 9.3 3 8.9Z" fill="#4b76f0"/></svg></i><i><svg class="e" viewBox="0 0 10 10"><path d="M3.4 2.6L4.4 1 6.6 1.1 6.8 3C7.4 3.4 7.8 3.9 8.1 4.5L9.6 2.4 10 2.8 9.3 5.4 10 8.4 9.5 8.8 8 6.8C7.3 8.2 6 9.5 4.6 9.6 2.3 9.6 0.4 7.8 0 5.8 0.4 4.2 1.8 3 3.4 2.6Z" fill="#2f8ff2"/><path d="M0.6 5.6C1 4.4 2.3 3.5 3.8 3.4 4.4 4.8 4.2 7 3.4 8.2 2 7.8 0.9 6.7 0.6 5.6Z" fill="#39acf6"/><path d="M3 8.9C4.6 9.1 6.4 8.2 7.5 6.7 7.1 8.2 5.9 9.5 4.6 9.6 4 9.6 3.4 9.3 3 8.9Z" fill="#4b76f0"/></svg></i></div>
<div class="c" style="left:669px;width:206px">Funded from Some Exchange aN1QC1bRmsR</div>
<div class="c" style="left:875px;width:71px">6178.07 $</div>
<div class="c" style="left:946px;width:86px">01-Jul-25 01:59</div>
</div>
<div class="r d up" style="top:620px;height:19px;--t:-8.05px">
<div class="c b" style="left:0px;width:30px">30</div>
<div class="c" style="left:30px;width:131px">AMSsqLHWm...K7cXAeZ81</div>
<div class="c" style="left:161px;width:66px">6,493,774</div>
<div class="c b" style="left:227px;width:45px">0.65 %</div>
<div class="c b" style="left:272px;width:45px">4,192 $</div>
<div class="c b" style="left:317px;width:46px">-</div>
<div class="c b g0" style="left:363px;width:50px">14.31%</div>
<div class="c" style="left:413px;width:81px">18-Nov-25 21:57</div>
<div class="c" style="left:494px;width:60px">1,357 $</div>
<div class="c" style="left:554px;width:115px">5,903 $ <i><svg class="e" viewBox="0 0 10 10"><path d="M3.4 2.6L4.4 1 6.6 1.1 6.8 3C7.4 3.4 7.8 3.9 8.1 4.5L9.6 2.4 10 2.8 9.3 5.4 10 8.4 9.5 8.8 8 6.8C7.3 8.2 6 9.5 4.6 9.6 2.3 9.6 0.4 7.8 0 5.8 0.4 4.2 1.8 3 3.4 2.6Z" fill="#2f8ff2"/><path d="M0.6 5.6C1 4.4 2.3 3.5 3.8 3.4 4.4 4.8 4.2 7 3.4 8.2 2 7.8 0.9 6.7 0.6 5.6Z" fill="#39acf6"/><path d="M3 8.9C4.6 9.1 6.4 8.2 7.5 6.7 7.1 8.2 5.9 9.5 4.6 9.6 4 9.6 3.4 9.3 3 8.9Z" fill="#4b76f0"/></svg></i><i><svg class="e" viewBox="0 0 10 10"><path d="M3.4 2.6L4.4 1 6.6 1.1 6.8 3C7.4 3.4 7.8 3.9 8.1 4.5L9.6 2.4 10 2.8 9.3 5.4 10 8.4 9.5 8.8 8 6.8C7.3 8.2 6 9.5 4.6 9.6 2.3 9.6 0.4 7.8 0 5.8 0.4 4.2 1.8 3 3.4 2.6Z" fill="#2f8ff2"/><path d="M0.6 5.6C1 4.4 2.3 3.5 3.8 3.4 4.4 4.8 4.2 7 3.4 8.2 2 7.8 0.9 6.7 0.6 5.6Z" fill="#39acf6"/><path d="M3 8.9C4.6 9.1 6.4 8.2 7.5 6.7 7.1 8.2 5.9 9.5 4.6 9.6 4 9.6 3.4 9.3 3 8.9Z" fill="#4b76f0"/></svg></i></div>
<div class="c" style="left:669px;width:206px">Funded from Binance Exchange</div>
<div class="c" style="left:875px;width:71px">5108.3 $</div>
<div class="c" style="left:946px;width:86px">28-May-25 14:35</div>
</div>
<div id="lb"></div><div id="rb"></div><div id="bb"></div><div id="ft"></div>
</div></body></html>
